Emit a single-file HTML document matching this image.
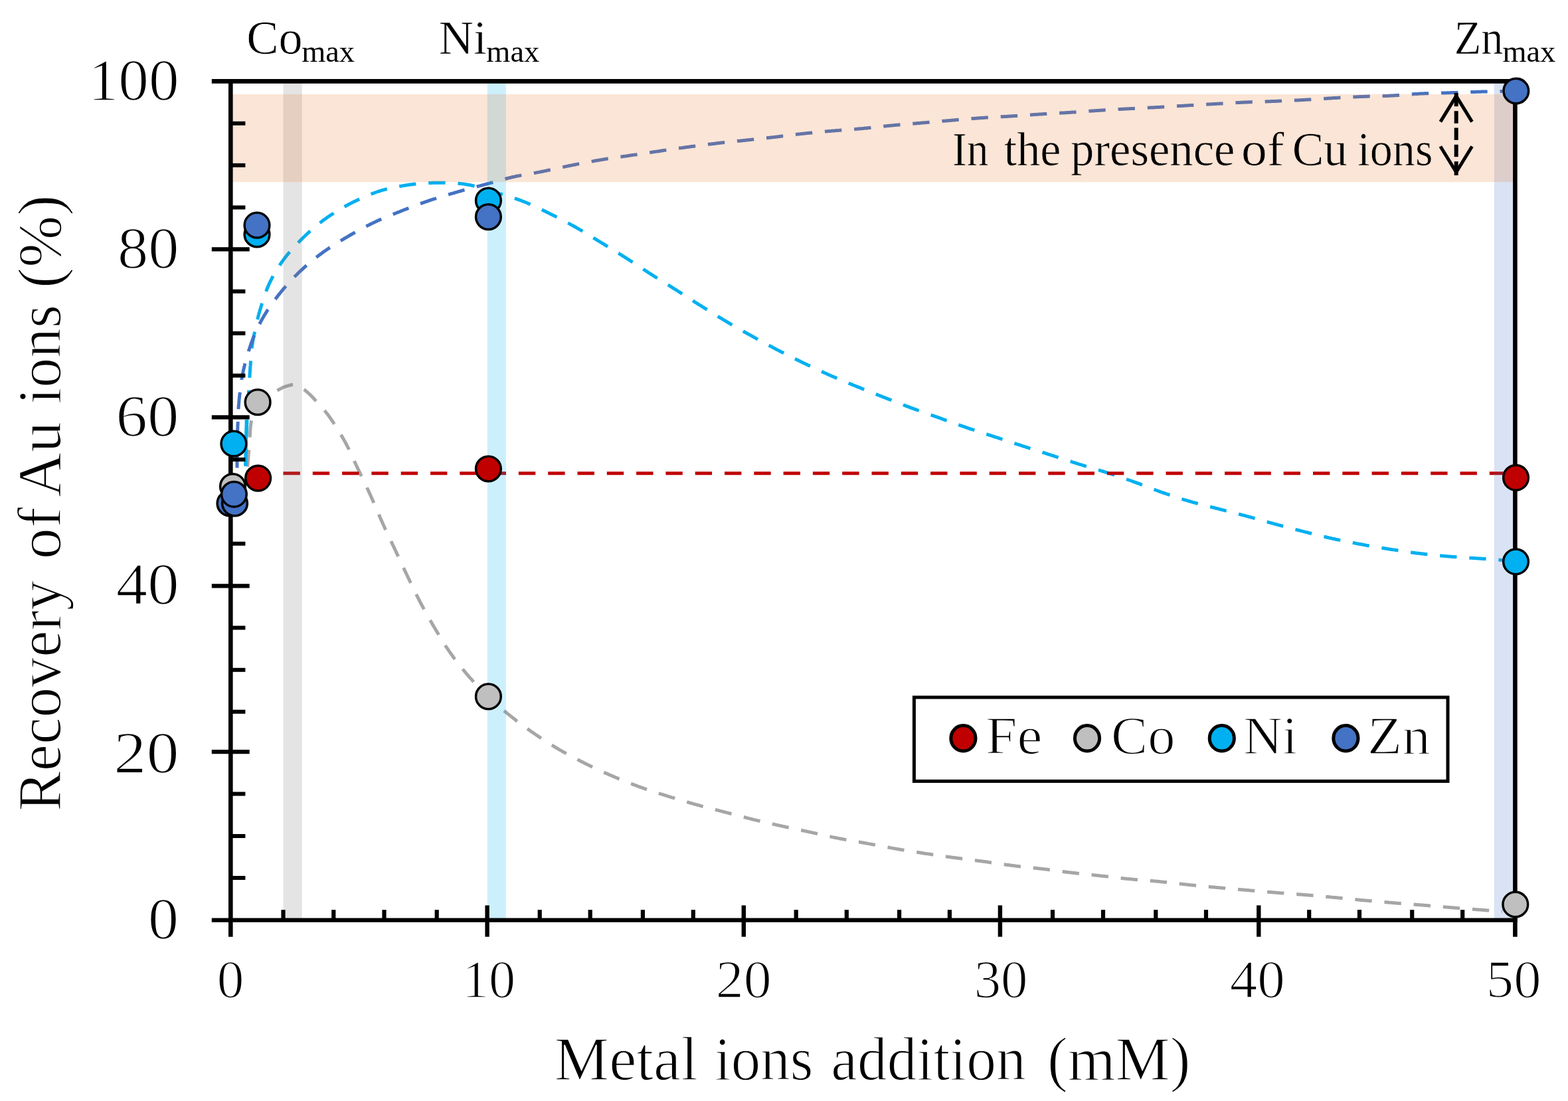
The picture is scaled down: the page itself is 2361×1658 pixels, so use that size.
<!DOCTYPE html>
<html><head><meta charset="utf-8"><title>Recovery of Au ions</title>
<style>html,body{margin:0;padding:0;background:#fff;} svg{display:block;}</style></head>
<body><svg width="2361" height="1658" viewBox="0 0 2361 1658">
<rect width="2361" height="1658" fill="#fff"/>
<path d="M372.0,712.0 L372.1,711.2 L372.1,710.2 L372.2,709.0 L372.3,707.8 L372.4,706.4 L372.6,705.0 L372.7,703.4 L372.8,701.8 L372.9,700.1 L373.1,698.4 L373.2,696.6 L373.3,694.8 L373.5,693.0 L373.6,691.3 L373.8,689.5 L373.9,687.8 L374.0,686.1 L374.2,684.4 L374.3,682.9 L374.4,681.4 L374.5,680.0 L374.6,678.3 L374.8,676.6 L374.9,674.9 L375.0,673.3 L375.1,671.7 L375.2,670.2 L375.4,668.6 L375.5,667.1 L375.6,665.7 L375.7,664.2 L375.8,662.8 L375.9,661.4 L376.0,660.0 L376.1,658.7 L376.2,657.3 L376.3,656.0 L376.4,654.3 L376.5,652.6 L376.6,651.1 L376.7,649.5 L376.8,648.0 L376.9,646.6 L377.0,645.1 L377.1,643.7 L377.2,642.3 L377.4,640.9 L377.6,639.4 L377.8,638.0 L378.1,636.4 L378.3,634.8 L378.6,633.2 L379.0,631.7 L379.3,630.1 L379.7,628.5 L380.1,627.0 L380.5,625.5 L381.0,624.0 L381.5,622.5 L382.0,621.0 L382.6,619.5 L383.2,618.1 L383.8,616.6 L384.5,615.2 L385.2,613.8 L385.9,612.4 L386.7,611.0 L387.5,609.7 L388.3,608.4 L389.1,607.2 L390.0,606.0 L391.0,604.7 L392.0,603.5 L393.0,602.4 L394.1,601.3 L395.2,600.2 L396.3,599.2 L397.4,598.2 L398.6,597.2 L399.8,596.3 L401.0,595.5 L402.4,594.7 L403.8,593.9 L405.2,593.3 L406.7,592.7 L408.2,592.1 L409.7,591.5 L411.2,590.9 L412.8,590.3 L414.4,589.6 L415.7,589.0 L417.1,588.3 L418.5,587.5 L419.9,586.7 L421.3,586.0 L422.7,585.2 L424.1,584.5 L425.6,583.8 L427.0,583.1 L428.5,582.5 L430.0,582.0 L431.5,581.5 L433.0,581.1 L434.6,580.6 L436.2,580.2 L437.7,579.8 L439.3,579.5 L440.9,579.2 L442.5,579.1 L444.0,579.1 L445.5,579.2 L447.0,579.5 L448.3,579.9 L449.6,580.5 L450.9,581.1 L452.2,581.9 L453.4,582.8 L454.7,583.7 L455.9,584.7 L457.1,585.8 L458.4,586.8 L459.6,587.9 L460.8,589.0 L462.0,590.0 L463.1,590.9 L464.1,591.9 L465.2,592.8 L466.2,593.7 L467.2,594.7 L468.2,595.6 L469.2,596.7 L470.2,597.7 L471.3,598.8 L472.4,600.0 L473.5,601.3 L474.7,602.6 L476.0,604.0 L476.8,604.9 L477.7,605.8 L478.5,606.8 L479.4,607.8 L480.3,608.7 L481.2,609.7 L482.2,610.8 L483.1,611.8 L484.1,612.9 L485.1,614.0 L486.0,615.1 L487.0,616.3 L488.0,617.5 L489.1,618.7 L490.1,619.9 L491.1,621.2 L492.1,622.5 L493.2,623.8 L494.2,625.2 L495.3,626.6 L496.3,628.1 L497.1,629.2 L497.8,630.3 L498.6,631.4 L499.4,632.6 L500.2,633.8 L501.1,635.0 L501.9,636.3 L502.7,637.6 L503.5,638.8 L504.4,640.1 L505.2,641.5 L506.1,642.8 L506.9,644.1 L507.8,645.5 L508.6,646.9 L509.5,648.2 L510.3,649.6 L511.2,651.0 L512.0,652.4 L512.8,653.8 L513.7,655.2 L514.5,656.6 L515.3,657.9 L516.1,659.3 L516.9,660.7 L517.7,662.1 L518.4,663.4 L519.2,664.8 L519.9,666.1 L520.6,667.5 L521.4,668.8 L522.1,670.2 L522.8,671.6 L523.5,673.0 L524.2,674.3 L524.9,675.7 L525.6,677.1 L526.2,678.5 L526.9,679.8 L527.5,681.2 L528.2,682.6 L528.8,684.0 L529.5,685.4 L530.1,686.7 L530.7,688.1 L531.4,689.5 L532.0,690.9 L532.6,692.3 L533.3,693.7 L533.9,695.1 L534.6,696.5 L535.2,697.9 L535.8,699.3 L536.5,700.7 L537.2,702.2 L537.8,703.6 L538.5,705.0 L539.1,706.3 L539.8,707.7 L540.4,709.0 L541.1,710.4 L541.7,711.7 L542.4,713.1 L543.0,714.4 L543.7,715.8 L544.3,717.1 L545.0,718.5 L545.6,719.9 L546.3,721.3 L546.9,722.6 L547.6,724.0 L548.2,725.4 L548.9,726.8 L549.6,728.1 L550.2,729.5 L550.9,730.9 L551.5,732.3 L552.2,733.6 L552.8,735.0 L553.5,736.4 L554.1,737.8 L554.8,739.1 L555.4,740.5 L556.0,741.9 L556.7,743.3 L557.3,744.6 L557.9,746.0 L558.5,747.4 L559.2,748.8 L559.8,750.2 L560.4,751.7 L561.1,753.1 L561.7,754.5 L562.3,755.9 L562.9,757.3 L563.5,758.7 L564.1,760.2 L564.7,761.6 L565.3,763.0 L565.9,764.4 L566.5,765.8 L567.2,767.2 L567.8,768.7 L568.4,770.1 L569.0,771.5 L569.6,772.9 L570.2,774.3 L570.8,775.7 L571.4,777.1 L572.0,778.5 L572.6,779.9 L573.2,781.3 L573.8,782.7 L574.5,784.1 L575.1,785.5 L575.7,786.9 L576.3,788.3 L577.0,789.7 L577.6,791.1 L578.2,792.4 L578.9,793.8 L579.5,795.2 L580.1,796.6 L580.8,797.9 L581.4,799.3 L582.1,800.7 L582.7,802.0 L583.3,803.4 L584.0,804.8 L584.6,806.1 L585.3,807.5 L585.9,808.9 L586.6,810.2 L587.2,811.6 L587.9,813.0 L588.5,814.3 L589.1,815.7 L589.8,817.0 L590.4,818.4 L591.1,819.8 L591.7,821.1 L592.4,822.5 L593.0,823.9 L593.7,825.2 L594.3,826.6 L594.9,828.0 L595.6,829.3 L596.2,830.7 L596.9,832.1 L597.5,833.4 L598.1,834.8 L598.8,836.2 L599.4,837.5 L600.0,838.9 L600.7,840.3 L601.3,841.6 L601.9,843.0 L602.6,844.4 L603.2,845.7 L603.8,847.1 L604.5,848.5 L605.1,849.8 L605.8,851.2 L606.4,852.6 L607.0,853.9 L607.7,855.3 L608.3,856.7 L609.0,858.1 L609.6,859.4 L610.3,860.8 L610.9,862.2 L611.6,863.5 L612.2,864.9 L612.9,866.3 L613.6,867.7 L614.2,869.1 L614.9,870.4 L615.5,871.8 L616.2,873.2 L616.9,874.6 L617.5,876.0 L618.2,877.4 L618.9,878.8 L619.5,880.2 L620.2,881.6 L620.9,883.0 L621.6,884.4 L622.2,885.8 L622.9,887.2 L623.6,888.6 L624.3,890.0 L624.9,891.4 L625.6,892.7 L626.3,894.1 L627.0,895.5 L627.7,896.9 L628.4,898.3 L629.1,899.7 L629.8,901.0 L630.5,902.4 L631.2,903.8 L631.9,905.1 L632.6,906.5 L633.3,907.9 L634.0,909.2 L634.7,910.6 L635.5,911.9 L636.2,913.3 L636.9,914.6 L637.6,915.9 L638.4,917.3 L639.1,918.6 L639.8,920.0 L640.5,921.3 L641.3,922.6 L642.0,923.9 L642.8,925.3 L643.5,926.6 L644.2,927.9 L645.0,929.2 L645.7,930.6 L646.5,931.9 L647.2,933.2 L648.0,934.5 L648.7,935.8 L649.5,937.1 L650.3,938.5 L651.0,939.8 L651.8,941.1 L652.6,942.4 L653.3,943.7 L654.1,945.0 L654.9,946.3 L655.6,947.6 L656.4,948.9 L657.2,950.2 L658.0,951.5 L658.7,952.8 L659.5,954.1 L660.3,955.4 L661.0,956.7 L661.8,958.0 L662.6,959.3 L663.4,960.6 L664.2,961.8 L665.0,963.1 L665.7,964.4 L666.5,965.7 L667.3,967.0 L668.1,968.3 L669.0,969.5 L669.8,970.8 L670.6,972.1 L671.4,973.4 L672.2,974.6 L673.1,975.9 L673.9,977.2 L674.8,978.4 L675.7,979.7 L676.5,980.9 L677.4,982.2 L678.3,983.4 L679.1,984.6 L680.0,985.8 L680.9,987.1 L681.8,988.3 L682.6,989.5 L683.5,990.7 L684.4,991.9 L685.3,993.1 L686.3,994.3 L687.2,995.6 L688.1,996.8 L689.0,998.0 L690.0,999.2 L690.9,1000.4 L691.8,1001.6 L692.8,1002.8 L693.7,1004.0 L694.7,1005.1 L695.6,1006.3 L696.6,1007.5 L697.5,1008.7 L698.5,1009.8 L699.5,1011.0 L700.4,1012.2 L701.4,1013.3 L702.4,1014.5 L703.3,1015.6 L704.3,1016.8 L705.3,1017.9 L706.3,1019.1 L707.3,1020.2 L708.3,1021.4 L709.4,1022.5 L710.4,1023.7 L711.4,1024.8 L712.5,1026.0 L713.5,1027.1 L714.5,1028.3 L715.6,1029.4 L716.6,1030.5 L717.7,1031.6 L718.7,1032.7 L719.8,1033.9 L720.9,1035.0 L721.9,1036.1 L723.0,1037.2 L724.1,1038.3 L725.1,1039.3 L726.2,1040.4 L727.3,1041.5 L728.4,1042.6 L729.5,1043.7 L730.5,1044.7 L731.6,1045.8 L732.7,1046.9 L733.8,1047.9 L734.9,1049.0 L736.0,1050.0 L737.1,1051.1 L738.3,1052.1 L739.4,1053.2 L740.6,1054.3 L741.7,1055.3 L742.9,1056.4 L744.0,1057.4 L745.2,1058.4 L746.3,1059.5 L747.5,1060.5 L748.6,1061.5 L749.8,1062.5 L751.0,1063.5 L752.1,1064.6 L753.3,1065.6 L754.5,1066.6 L755.7,1067.6 L756.9,1068.6 L758.0,1069.5 L759.2,1070.5 L760.4,1071.5 L761.6,1072.5 L762.8,1073.5 L764.0,1074.5 L765.2,1075.5 L766.5,1076.4 L767.7,1077.4 L768.9,1078.4 L770.1,1079.3 L771.3,1080.3 L772.5,1081.2 L773.7,1082.2 L774.9,1083.1 L776.1,1084.0 L777.3,1085.0 L778.5,1085.9 L779.7,1086.8 L780.9,1087.8 L782.2,1088.7 L783.4,1089.6 L784.6,1090.5 L785.9,1091.4 L787.1,1092.3 L788.3,1093.3 L789.6,1094.2 L790.8,1095.1 L792.1,1096.0 L793.3,1096.9 L794.6,1097.8 L795.8,1098.7 L797.1,1099.5 L798.3,1100.4 L799.6,1101.3 L800.8,1102.2 L802.1,1103.1 L803.3,1103.9 L804.6,1104.8 L805.9,1105.7 L807.1,1106.5 L808.4,1107.4 L809.6,1108.2 L810.9,1109.1 L812.2,1109.9 L813.4,1110.8 L814.7,1111.6 L816.0,1112.5 L817.2,1113.3 L818.5,1114.1 L819.8,1115.0 L821.1,1115.8 L822.3,1116.6 L823.6,1117.4 L824.9,1118.3 L826.2,1119.1 L827.5,1119.9 L828.8,1120.7 L830.0,1121.5 L831.3,1122.3 L832.6,1123.1 L833.9,1123.9 L835.2,1124.7 L836.5,1125.5 L837.9,1126.3 L839.2,1127.0 L840.5,1127.8 L841.8,1128.6 L843.1,1129.4 L844.4,1130.1 L845.8,1130.9 L847.1,1131.7 L848.5,1132.4 L849.8,1133.2 L851.1,1133.9 L852.5,1134.7 L853.8,1135.4 L855.2,1136.2 L856.5,1136.9 L857.9,1137.6 L859.3,1138.4 L860.6,1139.1 L862.0,1139.8 L863.4,1140.6 L864.7,1141.3 L866.1,1142.0 L867.5,1142.7 L868.8,1143.4 L870.2,1144.1 L871.6,1144.8 L873.0,1145.5 L874.3,1146.2 L875.7,1146.9 L877.1,1147.6 L878.5,1148.3 L879.8,1149.0 L881.2,1149.7 L882.6,1150.4 L884.0,1151.1 L885.3,1151.7 L886.7,1152.4 L888.1,1153.1 L889.5,1153.8 L890.8,1154.4 L892.2,1155.1 L893.6,1155.8 L895.0,1156.4 L896.4,1157.1 L897.8,1157.7 L899.1,1158.4 L900.5,1159.0 L901.9,1159.7 L903.3,1160.3 L904.7,1160.9 L906.1,1161.6 L907.5,1162.2 L908.9,1162.8 L910.3,1163.5 L911.7,1164.1 L913.1,1164.7 L914.5,1165.3 L915.9,1166.0 L917.3,1166.6 L918.7,1167.2 L920.1,1167.8 L921.5,1168.4 L922.9,1169.0 L924.3,1169.6 L925.7,1170.2 L927.1,1170.8 L928.6,1171.4 L930.0,1172.0 L931.4,1172.6 L932.8,1173.2 L934.2,1173.7 L935.7,1174.3 L937.1,1174.9 L938.5,1175.5 L939.9,1176.1 L941.4,1176.6 L942.8,1177.2 L944.2,1177.8 L945.7,1178.3 L947.1,1178.9 L948.5,1179.4 L949.9,1180.0 L951.4,1180.5 L952.8,1181.1 L954.2,1181.6 L955.7,1182.2 L957.1,1182.7 L958.5,1183.2 L959.9,1183.8 L961.4,1184.3 L962.8,1184.8 L964.2,1185.3 L965.6,1185.8 L967.1,1186.3 L968.5,1186.8 L969.9,1187.3 L971.3,1187.8 L972.7,1188.3 L974.2,1188.8 L975.6,1189.3 L977.0,1189.8 L978.4,1190.2 L979.8,1190.7 L981.2,1191.2 L982.7,1191.6 L984.1,1192.1 L985.5,1192.6 L986.9,1193.0 L988.3,1193.5 L989.8,1194.0 L991.2,1194.4 L992.6,1194.9 L994.0,1195.3 L995.5,1195.8 L996.9,1196.2 L998.3,1196.7 L999.8,1197.1 L1001.2,1197.6 L1002.7,1198.0 L1004.1,1198.5 L1005.5,1199.0 L1007.0,1199.4 L1008.4,1199.9 L1009.9,1200.3 L1011.3,1200.8 L1012.8,1201.2 L1014.3,1201.7 L1015.7,1202.1 L1017.2,1202.6 L1018.6,1203.0 L1020.1,1203.4 L1021.6,1203.9 L1023.0,1204.3 L1024.5,1204.8 L1026.0,1205.2 L1027.4,1205.7 L1028.9,1206.1 L1030.4,1206.5 L1031.8,1207.0 L1033.3,1207.4 L1034.8,1207.8 L1036.3,1208.2 L1037.7,1208.7 L1039.2,1209.1 L1040.7,1209.5 L1042.2,1209.9 L1043.6,1210.4 L1045.1,1210.8 L1046.6,1211.2 L1048.1,1211.6 L1049.6,1212.0 L1051.1,1212.4 L1052.6,1212.8 L1054.0,1213.2 L1055.5,1213.7 L1057.0,1214.1 L1058.5,1214.5 L1060.1,1214.9 L1061.6,1215.2 L1063.1,1215.6 L1064.6,1216.0 L1066.1,1216.4 L1067.6,1216.8 L1069.1,1217.2 L1070.6,1217.6 L1072.1,1218.0 L1073.6,1218.4 L1075.1,1218.8 L1076.6,1219.1 L1078.1,1219.5 L1079.6,1219.9 L1081.1,1220.3 L1082.6,1220.7 L1084.1,1221.1 L1085.6,1221.4 L1087.0,1221.8 L1088.5,1222.2 L1090.0,1222.6 L1091.5,1223.0 L1093.0,1223.4 L1094.5,1223.8 L1096.0,1224.2 L1097.5,1224.6 L1099.0,1225.0 L1100.5,1225.4 L1102.0,1225.8 L1103.5,1226.2 L1105.0,1226.6 L1106.5,1227.0 L1107.9,1227.3 L1109.4,1227.7 L1110.9,1228.1 L1112.4,1228.5 L1113.9,1228.9 L1115.4,1229.3 L1116.8,1229.7 L1118.3,1230.1 L1119.8,1230.5 L1121.3,1230.8 L1122.8,1231.2 L1124.3,1231.6 L1125.8,1232.0 L1127.3,1232.4 L1128.8,1232.7 L1130.4,1233.1 L1131.9,1233.5 L1133.3,1233.9 L1134.8,1234.2 L1136.2,1234.6 L1137.7,1234.9 L1139.2,1235.3 L1140.6,1235.6 L1142.1,1236.0 L1143.6,1236.3 L1145.1,1236.7 L1146.5,1237.0 L1148.0,1237.3 L1149.5,1237.7 L1151.0,1238.0 L1152.5,1238.4 L1154.0,1238.7 L1155.5,1239.1 L1157.0,1239.4 L1158.4,1239.7 L1159.9,1240.1 L1161.4,1240.4 L1162.9,1240.8 L1164.4,1241.1 L1165.8,1241.4 L1167.3,1241.8 L1168.8,1242.1 L1170.2,1242.4 L1171.7,1242.7 L1173.1,1243.1 L1174.6,1243.4 L1176.0,1243.7 L1177.5,1244.0 L1179.0,1244.4 L1180.5,1244.7 L1182.0,1245.0 L1183.5,1245.4 L1185.0,1245.7 L1186.5,1246.0 L1188.0,1246.3 L1189.4,1246.6 L1190.9,1246.9 L1192.3,1247.2 L1193.8,1247.6 L1195.3,1247.9 L1196.7,1248.2 L1198.2,1248.5 L1199.6,1248.8 L1201.1,1249.1 L1202.5,1249.4 L1204.0,1249.7 L1205.5,1250.0 L1207.0,1250.3 L1208.4,1250.7 L1209.9,1251.0 L1211.4,1251.3 L1212.9,1251.6 L1214.4,1251.9 L1216.0,1252.3 L1217.5,1252.6 L1218.9,1252.9 L1220.4,1253.2 L1221.9,1253.6 L1223.3,1253.9 L1224.8,1254.2 L1226.3,1254.5 L1227.8,1254.9 L1229.3,1255.2 L1230.8,1255.5 L1232.3,1255.9 L1233.8,1256.2 L1235.3,1256.6 L1236.8,1256.9 L1238.3,1257.2 L1239.8,1257.6 L1241.3,1257.9 L1242.8,1258.3 L1244.3,1258.6 L1245.9,1258.9 L1247.4,1259.3 L1248.9,1259.6 L1250.4,1259.9 L1251.9,1260.2 L1253.4,1260.6 L1254.9,1260.9 L1256.4,1261.2 L1257.9,1261.5 L1259.4,1261.8 L1260.8,1262.1 L1262.3,1262.4 L1263.8,1262.7 L1265.3,1263.0 L1266.8,1263.3 L1268.3,1263.6 L1269.8,1263.8 L1271.3,1264.1 L1272.8,1264.4 L1274.3,1264.7 L1275.8,1264.9 L1277.2,1265.2 L1278.7,1265.5 L1280.2,1265.7 L1281.7,1266.0 L1283.2,1266.2 L1284.6,1266.5 L1286.1,1266.7 L1287.6,1267.0 L1289.1,1267.2 L1290.5,1267.5 L1292.0,1267.8 L1293.5,1268.0 L1295.0,1268.3 L1296.4,1268.5 L1297.9,1268.8 L1299.4,1269.0 L1300.9,1269.3 L1302.4,1269.6 L1303.9,1269.8 L1305.4,1270.1 L1306.9,1270.4 L1308.4,1270.6 L1309.9,1270.9 L1311.4,1271.2 L1312.9,1271.5 L1314.5,1271.8 L1316.0,1272.0 L1317.5,1272.3 L1319.0,1272.6 L1320.5,1272.9 L1322.0,1273.2 L1323.6,1273.5 L1325.1,1273.8 L1326.6,1274.0 L1328.1,1274.3 L1329.6,1274.6 L1331.2,1274.9 L1332.7,1275.2 L1334.2,1275.5 L1335.8,1275.7 L1337.3,1276.0 L1338.8,1276.3 L1340.3,1276.6 L1341.9,1276.9 L1343.4,1277.1 L1344.9,1277.4 L1346.4,1277.7 L1348.0,1277.9 L1349.5,1278.2 L1351.0,1278.5 L1352.5,1278.7 L1353.9,1279.0 L1355.4,1279.2 L1356.9,1279.5 L1358.4,1279.7 L1359.9,1280.0 L1361.4,1280.2 L1362.9,1280.5 L1364.4,1280.7 L1365.8,1280.9 L1367.3,1281.2 L1368.8,1281.4 L1370.3,1281.7 L1371.8,1281.9 L1373.3,1282.2 L1374.8,1282.4 L1376.3,1282.6 L1377.8,1282.9 L1379.3,1283.1 L1380.7,1283.3 L1382.2,1283.6 L1383.7,1283.8 L1385.2,1284.0 L1386.7,1284.3 L1388.1,1284.5 L1389.6,1284.7 L1391.1,1285.0 L1392.5,1285.2 L1394.0,1285.4 L1395.5,1285.6 L1397.0,1285.9 L1398.5,1286.1 L1400.0,1286.3 L1401.5,1286.5 L1403.0,1286.8 L1404.5,1287.0 L1405.9,1287.2 L1407.4,1287.4 L1408.9,1287.6 L1410.4,1287.8 L1411.9,1288.1 L1413.3,1288.3 L1414.8,1288.5 L1416.3,1288.7 L1417.8,1288.9 L1419.2,1289.1 L1420.7,1289.3 L1422.2,1289.5 L1423.7,1289.7 L1425.1,1289.9 L1426.6,1290.2 L1428.1,1290.4 L1429.6,1290.6 L1431.1,1290.8 L1432.6,1291.0 L1434.1,1291.2 L1435.6,1291.4 L1437.1,1291.6 L1438.6,1291.8 L1440.1,1292.0 L1441.7,1292.2 L1443.2,1292.4 L1444.7,1292.6 L1446.2,1292.8 L1447.8,1293.0 L1449.3,1293.2 L1450.8,1293.4 L1452.4,1293.6 L1453.9,1293.8 L1455.5,1294.0 L1457.0,1294.2 L1458.6,1294.4 L1460.1,1294.6 L1461.7,1294.8 L1463.2,1295.0 L1464.8,1295.2 L1466.3,1295.4 L1467.8,1295.6 L1469.4,1295.8 L1470.9,1296.0 L1472.5,1296.2 L1474.0,1296.4 L1475.6,1296.6 L1477.1,1296.8 L1478.6,1297.0 L1480.2,1297.2 L1481.7,1297.4 L1483.2,1297.6 L1484.8,1297.8 L1486.3,1298.0 L1487.8,1298.2 L1489.3,1298.5 L1490.9,1298.7 L1492.4,1298.9 L1493.9,1299.1 L1495.5,1299.3 L1497.0,1299.6 L1498.5,1299.8 L1500.0,1300.0 L1501.6,1300.2 L1503.1,1300.5 L1504.6,1300.7 L1506.1,1300.9 L1507.6,1301.1 L1509.2,1301.3 L1510.7,1301.6 L1512.2,1301.8 L1513.7,1302.0 L1515.2,1302.2 L1516.7,1302.4 L1518.3,1302.6 L1519.8,1302.8 L1521.3,1303.0 L1522.8,1303.2 L1524.3,1303.4 L1525.8,1303.6 L1527.4,1303.8 L1528.9,1304.0 L1530.5,1304.2 L1532.0,1304.4 L1533.5,1304.5 L1535.1,1304.7 L1536.6,1304.9 L1538.2,1305.0 L1539.7,1305.2 L1541.2,1305.4 L1542.8,1305.5 L1544.3,1305.7 L1545.8,1305.9 L1547.3,1306.0 L1548.9,1306.2 L1550.4,1306.4 L1551.9,1306.5 L1553.5,1306.7 L1555.0,1306.8 L1556.5,1307.0 L1558.1,1307.2 L1559.6,1307.3 L1561.2,1307.5 L1562.7,1307.7 L1564.2,1307.9 L1565.8,1308.0 L1567.3,1308.2 L1568.9,1308.4 L1570.4,1308.6 L1571.9,1308.8 L1573.4,1309.0 L1574.9,1309.1 L1576.4,1309.3 L1578.0,1309.5 L1579.5,1309.7 L1581.0,1309.9 L1582.5,1310.1 L1584.0,1310.3 L1585.5,1310.5 L1587.1,1310.7 L1588.6,1310.9 L1590.1,1311.1 L1591.6,1311.4 L1593.1,1311.6 L1594.7,1311.8 L1596.2,1312.0 L1597.7,1312.2 L1599.3,1312.4 L1600.8,1312.6 L1602.3,1312.8 L1603.8,1313.0 L1605.4,1313.2 L1606.9,1313.4 L1608.4,1313.5 L1609.9,1313.7 L1611.5,1313.9 L1613.0,1314.1 L1614.5,1314.3 L1616.1,1314.5 L1617.6,1314.6 L1619.1,1314.8 L1620.7,1315.0 L1622.2,1315.2 L1623.7,1315.3 L1625.3,1315.5 L1626.8,1315.7 L1628.4,1315.8 L1629.9,1316.0 L1631.5,1316.2 L1633.0,1316.3 L1634.5,1316.5 L1636.1,1316.6 L1637.6,1316.8 L1639.2,1317.0 L1640.7,1317.1 L1642.2,1317.3 L1643.8,1317.4 L1645.3,1317.6 L1646.8,1317.8 L1648.4,1317.9 L1649.9,1318.1 L1651.4,1318.2 L1653.0,1318.4 L1654.5,1318.6 L1656.0,1318.7 L1657.5,1318.9 L1659.1,1319.1 L1660.6,1319.2 L1662.2,1319.4 L1663.7,1319.6 L1665.2,1319.8 L1666.8,1319.9 L1668.3,1320.1 L1669.8,1320.3 L1671.4,1320.5 L1672.9,1320.7 L1674.4,1320.8 L1675.9,1321.0 L1677.5,1321.2 L1679.0,1321.4 L1680.5,1321.5 L1682.0,1321.7 L1683.6,1321.9 L1685.1,1322.1 L1686.6,1322.2 L1688.1,1322.4 L1689.7,1322.6 L1691.2,1322.7 L1692.8,1322.9 L1694.3,1323.1 L1695.9,1323.2 L1697.4,1323.4 L1699.0,1323.5 L1700.6,1323.7 L1702.1,1323.8 L1703.6,1324.0 L1705.1,1324.1 L1706.6,1324.3 L1708.1,1324.4 L1709.6,1324.5 L1711.1,1324.7 L1712.6,1324.8 L1714.1,1324.9 L1715.7,1325.0 L1717.2,1325.2 L1718.7,1325.3 L1720.3,1325.4 L1721.8,1325.5 L1723.3,1325.6 L1724.9,1325.8 L1726.4,1325.9 L1728.0,1326.0 L1729.5,1326.1 L1731.0,1326.3 L1732.6,1326.4 L1734.1,1326.5 L1735.6,1326.6 L1737.1,1326.8 L1738.7,1326.9 L1740.2,1327.0 L1741.7,1327.2 L1743.2,1327.3 L1744.7,1327.5 L1746.2,1327.6 L1747.7,1327.8 L1749.3,1327.9 L1750.8,1328.1 L1752.3,1328.2 L1753.9,1328.4 L1755.4,1328.5 L1756.9,1328.7 L1758.4,1328.9 L1760.0,1329.0 L1761.5,1329.2 L1763.0,1329.4 L1764.5,1329.5 L1766.0,1329.7 L1767.5,1329.9 L1769.0,1330.1 L1770.5,1330.2 L1772.0,1330.4 L1773.5,1330.6 L1775.0,1330.7 L1776.6,1330.9 L1778.1,1331.1 L1779.6,1331.3 L1781.1,1331.4 L1782.6,1331.6 L1784.1,1331.8 L1785.6,1331.9 L1787.2,1332.1 L1788.7,1332.2 L1790.2,1332.4 L1791.7,1332.6 L1793.3,1332.7 L1794.8,1332.9 L1796.3,1333.0 L1797.9,1333.2 L1799.4,1333.3 L1801.0,1333.5 L1802.5,1333.6 L1804.0,1333.8 L1805.6,1333.9 L1807.1,1334.1 L1808.7,1334.2 L1810.2,1334.4 L1811.8,1334.5 L1813.3,1334.7 L1814.9,1334.8 L1816.4,1335.0 L1818.0,1335.1 L1819.5,1335.3 L1821.0,1335.4 L1822.6,1335.6 L1824.1,1335.7 L1825.7,1335.9 L1827.2,1336.0 L1828.7,1336.1 L1830.2,1336.3 L1831.8,1336.4 L1833.3,1336.6 L1834.8,1336.7 L1836.4,1336.8 L1837.9,1337.0 L1839.5,1337.1 L1841.0,1337.3 L1842.6,1337.4 L1844.1,1337.5 L1845.6,1337.7 L1847.2,1337.8 L1848.7,1338.0 L1850.2,1338.1 L1851.8,1338.2 L1853.3,1338.4 L1854.8,1338.5 L1856.3,1338.6 L1857.9,1338.8 L1859.4,1338.9 L1860.9,1339.0 L1862.5,1339.2 L1864.0,1339.3 L1865.5,1339.4 L1867.1,1339.6 L1868.6,1339.7 L1870.1,1339.8 L1871.7,1340.0 L1873.2,1340.1 L1874.8,1340.2 L1876.3,1340.4 L1877.9,1340.5 L1879.4,1340.6 L1880.9,1340.8 L1882.5,1340.9 L1884.0,1341.0 L1885.5,1341.2 L1887.0,1341.3 L1888.6,1341.4 L1890.1,1341.6 L1891.7,1341.7 L1893.2,1341.8 L1894.7,1342.0 L1896.3,1342.1 L1897.8,1342.2 L1899.4,1342.4 L1900.9,1342.5 L1902.5,1342.6 L1904.0,1342.8 L1905.6,1342.9 L1907.1,1343.0 L1908.7,1343.2 L1910.2,1343.3 L1911.7,1343.4 L1913.3,1343.5 L1914.8,1343.7 L1916.4,1343.8 L1917.9,1343.9 L1919.4,1344.0 L1921.0,1344.2 L1922.5,1344.3 L1924.0,1344.4 L1925.6,1344.5 L1927.1,1344.7 L1928.6,1344.8 L1930.1,1344.9 L1931.7,1345.0 L1933.2,1345.1 L1934.7,1345.3 L1936.2,1345.4 L1937.7,1345.5 L1939.3,1345.6 L1940.8,1345.7 L1942.3,1345.8 L1943.8,1345.9 L1945.3,1346.1 L1946.9,1346.2 L1948.4,1346.3 L1949.9,1346.4 L1951.4,1346.5 L1952.9,1346.6 L1954.4,1346.7 L1955.9,1346.9 L1957.5,1347.0 L1959.0,1347.1 L1960.5,1347.2 L1962.0,1347.3 L1963.5,1347.5 L1965.0,1347.6 L1966.5,1347.7 L1968.1,1347.8 L1969.6,1348.0 L1971.2,1348.1 L1972.7,1348.2 L1974.3,1348.3 L1975.8,1348.5 L1977.3,1348.6 L1978.9,1348.7 L1980.4,1348.9 L1982.0,1349.0 L1983.5,1349.1 L1985.0,1349.3 L1986.6,1349.4 L1988.1,1349.5 L1989.6,1349.7 L1991.2,1349.8 L1992.7,1350.0 L1994.2,1350.1 L1995.8,1350.2 L1997.3,1350.4 L1998.9,1350.5 L2000.4,1350.6 L2001.9,1350.8 L2003.5,1350.9 L2005.0,1351.1 L2006.6,1351.2 L2008.1,1351.4 L2009.7,1351.5 L2011.2,1351.6 L2012.7,1351.8 L2014.2,1351.9 L2015.7,1352.1 L2017.2,1352.2 L2018.7,1352.4 L2020.2,1352.5 L2021.7,1352.7 L2023.3,1352.8 L2024.8,1353.0 L2026.3,1353.1 L2027.8,1353.3 L2029.3,1353.4 L2030.8,1353.6 L2032.3,1353.7 L2033.9,1353.9 L2035.4,1354.0 L2036.9,1354.2 L2038.4,1354.3 L2039.9,1354.5 L2041.5,1354.6 L2043.0,1354.8 L2044.5,1354.9 L2046.0,1355.1 L2047.6,1355.2 L2049.1,1355.4 L2050.6,1355.5 L2052.2,1355.7 L2053.7,1355.8 L2055.2,1355.9 L2056.7,1356.1 L2058.2,1356.2 L2059.7,1356.3 L2061.2,1356.5 L2062.7,1356.6 L2064.2,1356.7 L2065.7,1356.9 L2067.2,1357.0 L2068.7,1357.2 L2070.3,1357.3 L2071.8,1357.4 L2073.3,1357.5 L2074.8,1357.7 L2076.3,1357.8 L2077.9,1357.9 L2079.4,1358.1 L2080.9,1358.2 L2082.4,1358.3 L2083.9,1358.5 L2085.4,1358.6 L2086.9,1358.7 L2088.4,1358.8 L2089.9,1359.0 L2091.4,1359.1 L2092.9,1359.2 L2094.4,1359.3 L2095.9,1359.5 L2097.3,1359.6 L2098.8,1359.7 L2100.4,1359.8 L2101.9,1360.0 L2103.5,1360.1 L2105.0,1360.2 L2106.5,1360.3 L2108.0,1360.4 L2109.6,1360.6 L2111.1,1360.7 L2112.6,1360.8 L2114.1,1360.9 L2115.6,1361.0 L2117.1,1361.1 L2118.6,1361.2 L2120.1,1361.4 L2121.6,1361.5 L2123.1,1361.6 L2124.6,1361.7 L2126.1,1361.8 L2127.6,1361.9 L2129.1,1362.0 L2130.6,1362.2 L2132.1,1362.3 L2133.7,1362.4 L2135.2,1362.5 L2136.7,1362.6 L2138.3,1362.8 L2139.8,1362.9 L2141.4,1363.0 L2142.9,1363.1 L2144.4,1363.2 L2145.8,1363.4 L2147.3,1363.5 L2148.8,1363.6 L2150.4,1363.7 L2151.9,1363.9 L2153.4,1364.0 L2154.9,1364.1 L2156.4,1364.2 L2158.0,1364.4 L2159.5,1364.5 L2161.0,1364.6 L2162.6,1364.8 L2164.1,1364.9 L2165.7,1365.0 L2167.2,1365.2 L2168.7,1365.3 L2170.3,1365.4 L2171.8,1365.5 L2173.3,1365.7 L2174.9,1365.8 L2176.4,1365.9 L2177.9,1366.1 L2179.4,1366.2 L2180.9,1366.3 L2182.4,1366.4 L2183.9,1366.6 L2185.4,1366.7 L2186.9,1366.8 L2188.5,1366.9 L2190.1,1367.1 L2191.7,1367.2 L2193.3,1367.3 L2194.9,1367.4 L2196.5,1367.6 L2198.1,1367.7 L2199.7,1367.8 L2201.3,1368.0 L2202.9,1368.1 L2204.5,1368.2 L2206.1,1368.3 L2207.7,1368.5 L2209.3,1368.6 L2210.9,1368.7 L2212.4,1368.8 L2214.0,1369.0 L2215.5,1369.1 L2217.1,1369.2 L2218.6,1369.3 L2220.1,1369.4 L2221.5,1369.6 L2223.0,1369.7 L2224.4,1369.8 L2225.9,1369.9 L2227.3,1370.0 L2228.6,1370.1 L2230.0,1370.2 L2231.8,1370.3 L2233.6,1370.5 L2235.4,1370.6 L2237.3,1370.7 L2239.1,1370.9 L2240.9,1371.0 L2242.7,1371.1 L2244.4,1371.3 L2246.2,1371.4 L2247.9,1371.5 L2249.5,1371.6 L2251.1,1371.7 L2252.6,1371.8 L2254.1,1371.9 L2255.5,1372.0 L2256.8,1372.1 L2258.1,1372.2 L2259.2,1372.3 L2260.2,1372.4 L2261.2,1372.4 L2262.0,1372.5" fill="none" stroke="#A6A6A6" stroke-width="5.0" stroke-dasharray="25.4 18.9" stroke-dashoffset="35.01" />
<path d="M369.8,703.0 L369.8,702.2 L369.8,701.2 L369.9,700.2 L369.9,699.0 L369.9,697.8 L369.9,696.4 L369.9,695.0 L370.0,693.5 L370.0,691.9 L370.0,690.3 L370.1,688.6 L370.1,686.9 L370.1,685.2 L370.2,683.4 L370.2,681.7 L370.2,679.9 L370.3,678.1 L370.3,676.3 L370.3,674.6 L370.4,672.9 L370.4,671.2 L370.5,669.6 L370.5,668.0 L370.6,666.5 L370.6,665.0 L370.7,663.4 L370.7,661.8 L370.8,660.3 L370.8,658.7 L370.9,657.2 L370.9,655.7 L371.0,654.3 L371.0,652.8 L371.1,651.3 L371.2,649.9 L371.2,648.4 L371.3,647.0 L371.3,645.5 L371.4,644.1 L371.5,642.6 L371.5,641.2 L371.6,639.7 L371.7,638.2 L371.8,636.7 L371.8,635.1 L371.9,633.6 L372.0,632.0 L372.1,630.5 L372.2,629.1 L372.2,627.6 L372.3,626.1 L372.4,624.6 L372.5,623.0 L372.6,621.5 L372.7,620.0 L372.8,618.4 L372.9,616.9 L372.9,615.3 L373.0,613.8 L373.1,612.2 L373.2,610.6 L373.3,609.1 L373.4,607.5 L373.5,605.9 L373.6,604.3 L373.7,602.8 L373.8,601.2 L373.9,599.7 L374.0,598.1 L374.1,596.5 L374.2,595.0 L374.3,593.5 L374.4,591.9 L374.5,590.4 L374.6,588.8 L374.7,587.3 L374.8,585.7 L374.8,584.2 L374.9,582.6 L375.0,581.1 L375.1,579.5 L375.2,578.0 L375.3,576.4 L375.4,574.9 L375.5,573.3 L375.6,571.8 L375.7,570.3 L375.8,568.7 L375.9,567.2 L376.0,565.6 L376.1,564.1 L376.2,562.6 L376.3,561.0 L376.4,559.5 L376.5,558.0 L376.6,556.5 L376.7,554.9 L376.8,553.4 L376.9,551.8 L377.1,550.2 L377.2,548.6 L377.3,547.1 L377.4,545.5 L377.5,543.9 L377.6,542.3 L377.7,540.8 L377.9,539.2 L378.0,537.6 L378.1,536.1 L378.2,534.6 L378.4,533.1 L378.5,531.6 L378.6,530.1 L378.8,528.7 L378.9,527.3 L379.0,525.9 L379.2,524.6 L379.3,523.3 L379.5,522.0 L379.7,520.2 L380.0,518.5 L380.2,516.9 L380.4,515.3 L380.7,513.8 L380.9,512.4 L381.2,511.0 L381.5,509.7 L381.7,508.3 L382.0,507.0 L382.3,505.6 L382.6,504.2 L382.9,502.8 L383.3,501.3 L383.6,499.7 L384.0,498.0 L384.3,496.7 L384.6,495.4 L384.9,494.0 L385.1,492.7 L385.4,491.3 L385.7,489.9 L386.0,488.6 L386.3,487.2 L386.6,485.7 L387.0,484.3 L387.3,482.8 L387.6,481.4 L388.0,479.9 L388.4,478.3 L388.8,476.8 L389.2,475.2 L389.6,473.6 L390.0,472.0 L390.5,470.4 L391.0,468.7 L391.5,467.0 L391.9,465.7 L392.3,464.4 L392.7,463.0 L393.1,461.6 L393.6,460.2 L394.0,458.8 L394.4,457.4 L394.9,455.9 L395.4,454.4 L395.8,452.9 L396.3,451.4 L396.8,449.9 L397.3,448.4 L397.8,446.9 L398.3,445.3 L398.9,443.8 L399.4,442.3 L399.9,440.8 L400.5,439.2 L401.1,437.7 L401.6,436.2 L402.2,434.7 L402.8,433.2 L403.4,431.7 L404.1,430.3 L404.7,428.8 L405.3,427.4 L406.0,426.0 L406.7,424.6 L407.3,423.2 L408.0,421.8 L408.7,420.5 L409.4,419.1 L410.1,417.7 L410.9,416.4 L411.6,415.0 L412.4,413.7 L413.1,412.3 L413.9,411.0 L414.7,409.7 L415.5,408.4 L416.2,407.0 L417.1,405.7 L417.9,404.4 L418.7,403.1 L419.5,401.8 L420.4,400.5 L421.3,399.2 L422.1,397.9 L423.0,396.6 L423.9,395.3 L424.8,394.1 L425.7,392.8 L426.6,391.5 L427.6,390.3 L428.5,389.0 L429.4,387.8 L430.3,386.7 L431.2,385.5 L432.1,384.3 L433.1,383.1 L434.0,382.0 L435.0,380.8 L436.0,379.7 L437.0,378.5 L438.0,377.4 L439.0,376.2 L440.0,375.1 L441.0,373.9 L442.1,372.8 L443.1,371.7 L444.1,370.5 L445.2,369.4 L446.2,368.3 L447.3,367.2 L448.4,366.1 L449.4,365.0 L450.5,363.9 L451.5,362.8 L452.6,361.8 L453.7,360.7 L454.7,359.6 L455.8,358.6 L456.9,357.6 L457.9,356.5 L459.0,355.5 L460.1,354.4 L461.3,353.3 L462.4,352.3 L463.5,351.2 L464.7,350.2 L465.8,349.1 L466.9,348.1 L468.1,347.1 L469.2,346.1 L470.4,345.1 L471.5,344.1 L472.7,343.1 L473.8,342.1 L475.0,341.1 L476.2,340.1 L477.3,339.2 L478.5,338.2 L479.7,337.2 L480.9,336.3 L482.1,335.4 L483.3,334.4 L484.5,333.5 L485.7,332.6 L487.0,331.6 L488.2,330.7 L489.5,329.8 L490.7,328.9 L492.0,328.0 L493.2,327.1 L494.5,326.3 L495.7,325.4 L497.0,324.6 L498.3,323.7 L499.6,322.9 L500.9,322.0 L502.2,321.2 L503.5,320.3 L504.8,319.5 L506.1,318.7 L507.4,317.9 L508.8,317.1 L510.1,316.3 L511.4,315.5 L512.8,314.7 L514.1,313.9 L515.5,313.1 L516.9,312.3 L518.2,311.6 L519.6,310.8 L521.0,310.1 L522.3,309.3 L523.7,308.6 L525.1,307.8 L526.5,307.1 L527.8,306.4 L529.2,305.7 L530.6,305.0 L532.0,304.3 L533.4,303.6 L534.8,302.9 L536.2,302.2 L537.6,301.6 L539.0,300.9 L540.4,300.2 L541.8,299.6 L543.2,298.9 L544.6,298.3 L546.1,297.6 L547.5,297.0 L548.9,296.4 L550.4,295.7 L551.8,295.1 L553.2,294.5 L554.7,293.9 L556.1,293.3 L557.6,292.8 L559.0,292.2 L560.4,291.6 L561.9,291.1 L563.3,290.6 L564.8,290.0 L566.2,289.5 L567.7,289.0 L569.1,288.5 L570.6,288.1 L572.0,287.6 L573.5,287.1 L575.0,286.7 L576.5,286.2 L578.0,285.8 L579.5,285.4 L581.0,285.0 L582.5,284.6 L583.9,284.2 L585.4,283.9 L586.9,283.5 L588.4,283.2 L589.9,282.8 L591.4,282.5 L592.9,282.2 L594.4,281.9 L596.0,281.6 L597.5,281.3 L599.0,281.0 L600.5,280.7 L602.0,280.4 L603.5,280.2 L605.0,279.9 L606.6,279.7 L608.1,279.4 L609.6,279.2 L611.1,279.0 L612.7,278.7 L614.2,278.5 L615.7,278.3 L617.2,278.1 L618.7,277.9 L620.2,277.7 L621.7,277.5 L623.2,277.3 L624.7,277.2 L626.2,277.0 L627.7,276.9 L629.2,276.7 L630.7,276.6 L632.2,276.4 L633.7,276.3 L635.3,276.2 L636.8,276.1 L638.3,276.0 L639.8,275.9 L641.4,275.8 L642.9,275.7 L644.4,275.6 L645.9,275.5 L647.4,275.5 L649.0,275.4 L650.5,275.4 L652.0,275.3 L653.5,275.3 L655.1,275.2 L656.6,275.2 L658.1,275.2 L659.6,275.2 L661.2,275.2 L662.7,275.2 L664.2,275.2 L665.8,275.2 L667.3,275.2 L668.9,275.2 L670.5,275.3 L672.0,275.3 L673.6,275.3 L675.1,275.4 L676.7,275.4 L678.3,275.5 L679.8,275.6 L681.4,275.6 L682.9,275.7 L684.5,275.8 L686.0,275.9 L687.5,276.0 L689.1,276.2 L690.6,276.3 L692.1,276.4 L693.6,276.6 L695.1,276.7 L696.5,276.9 L698.0,277.1 L699.4,277.3 L700.9,277.5 L702.3,277.7 L703.9,278.0 L705.4,278.2 L706.9,278.5 L708.4,278.8 L709.8,279.1 L711.3,279.5 L712.7,279.8 L714.1,280.2 L715.5,280.5 L716.9,280.9 L718.3,281.3 L719.7,281.7 L721.1,282.1 L722.4,282.5 L723.8,283.0 L725.2,283.4 L726.6,283.8 L728.0,284.3 L729.5,284.7 L730.9,285.2 L732.4,285.6 L733.8,286.1 L735.3,286.6 L736.9,287.1 L738.4,287.5 L740.0,288.0 L741.4,288.4 L742.7,288.8 L744.1,289.2 L745.5,289.6 L747.0,290.0 L748.4,290.5 L749.9,290.9 L751.3,291.3 L752.8,291.8 L754.3,292.2 L755.8,292.6 L757.3,293.1 L758.8,293.5 L760.3,294.0 L761.8,294.4 L763.4,294.9 L764.9,295.4 L766.4,295.9 L767.9,296.3 L769.4,296.8 L771.0,297.3 L772.5,297.8 L774.0,298.3 L775.5,298.8 L777.0,299.3 L778.4,299.8 L779.9,300.3 L781.3,300.8 L782.8,301.3 L784.2,301.9 L785.6,302.4 L787.1,303.0 L788.6,303.6 L790.0,304.1 L791.5,304.7 L793.0,305.3 L794.4,305.9 L795.8,306.6 L797.3,307.2 L798.7,307.8 L800.1,308.4 L801.5,309.1 L802.9,309.7 L804.4,310.3 L805.8,311.0 L807.2,311.6 L808.5,312.3 L809.9,313.0 L811.3,313.6 L812.7,314.3 L814.1,314.9 L815.5,315.6 L816.9,316.3 L818.2,317.0 L819.6,317.6 L821.0,318.3 L822.4,319.0 L823.7,319.7 L825.1,320.3 L826.5,321.0 L827.9,321.7 L829.3,322.4 L830.6,323.0 L832.0,323.7 L833.4,324.4 L834.7,325.1 L836.1,325.8 L837.5,326.5 L838.8,327.2 L840.2,327.9 L841.5,328.6 L842.9,329.3 L844.3,330.0 L845.6,330.7 L847.0,331.4 L848.3,332.1 L849.6,332.8 L851.0,333.5 L852.3,334.2 L853.7,334.9 L855.0,335.7 L856.3,336.4 L857.7,337.1 L859.0,337.8 L860.3,338.6 L861.6,339.3 L863.0,340.0 L864.3,340.8 L865.6,341.5 L867.0,342.3 L868.3,343.0 L869.7,343.8 L871.0,344.6 L872.3,345.3 L873.7,346.1 L875.0,346.9 L876.3,347.7 L877.6,348.5 L878.9,349.3 L880.3,350.0 L881.6,350.8 L882.9,351.6 L884.2,352.4 L885.5,353.2 L886.8,354.0 L888.1,354.8 L889.5,355.6 L890.8,356.4 L892.1,357.2 L893.4,358.0 L894.7,358.9 L896.1,359.7 L897.4,360.5 L898.7,361.3 L900.1,362.1 L901.4,363.0 L902.8,363.8 L904.1,364.6 L905.4,365.4 L906.6,366.1 L907.9,366.9 L909.2,367.7 L910.5,368.5 L911.8,369.3 L913.1,370.1 L914.5,370.9 L915.8,371.7 L917.1,372.5 L918.4,373.3 L919.7,374.2 L921.0,375.0 L922.4,375.8 L923.7,376.6 L925.0,377.4 L926.3,378.2 L927.6,379.0 L928.9,379.9 L930.2,380.7 L931.6,381.5 L932.9,382.3 L934.2,383.1 L935.5,383.9 L936.8,384.8 L938.1,385.6 L939.3,386.4 L940.6,387.2 L941.9,388.0 L943.2,388.8 L944.5,389.7 L945.8,390.5 L947.1,391.3 L948.4,392.2 L949.7,393.0 L951.0,393.9 L952.3,394.7 L953.6,395.5 L954.9,396.4 L956.1,397.2 L957.4,398.1 L958.7,398.9 L960.0,399.7 L961.2,400.6 L962.5,401.4 L963.8,402.2 L965.1,403.1 L966.3,403.9 L967.6,404.7 L968.9,405.6 L970.2,406.4 L971.4,407.2 L972.7,408.1 L974.0,408.9 L975.3,409.7 L976.5,410.6 L977.8,411.4 L979.1,412.2 L980.4,413.0 L981.7,413.8 L983.0,414.7 L984.2,415.5 L985.5,416.3 L986.8,417.1 L988.1,417.9 L989.4,418.7 L990.7,419.5 L992.0,420.3 L993.2,421.1 L994.5,421.9 L995.8,422.7 L997.1,423.5 L998.4,424.3 L999.7,425.1 L1001.0,425.9 L1002.3,426.7 L1003.5,427.5 L1004.8,428.3 L1006.1,429.1 L1007.4,429.9 L1008.7,430.7 L1010.0,431.6 L1011.3,432.4 L1012.5,433.2 L1013.8,434.0 L1015.1,434.8 L1016.4,435.6 L1017.7,436.4 L1019.0,437.2 L1020.2,438.0 L1021.5,438.9 L1022.8,439.7 L1024.1,440.5 L1025.4,441.3 L1026.6,442.1 L1027.9,443.0 L1029.2,443.8 L1030.5,444.6 L1031.8,445.4 L1033.0,446.3 L1034.3,447.1 L1035.6,447.9 L1036.9,448.7 L1038.2,449.6 L1039.4,450.4 L1040.7,451.2 L1042.0,452.0 L1043.3,452.8 L1044.6,453.7 L1045.9,454.5 L1047.1,455.3 L1048.4,456.1 L1049.7,456.9 L1051.0,457.8 L1052.3,458.6 L1053.6,459.4 L1054.9,460.2 L1056.2,461.0 L1057.5,461.8 L1058.8,462.7 L1060.1,463.5 L1061.4,464.3 L1062.7,465.1 L1064.0,465.9 L1065.3,466.8 L1066.6,467.6 L1067.9,468.4 L1069.2,469.2 L1070.5,470.0 L1071.8,470.8 L1073.1,471.7 L1074.5,472.5 L1075.8,473.3 L1077.1,474.1 L1078.4,474.9 L1079.7,475.7 L1081.0,476.5 L1082.3,477.3 L1083.7,478.1 L1085.0,478.9 L1086.3,479.7 L1087.6,480.5 L1088.9,481.3 L1090.3,482.1 L1091.6,482.9 L1092.9,483.7 L1094.3,484.5 L1095.6,485.3 L1096.9,486.0 L1098.3,486.8 L1099.6,487.6 L1100.9,488.4 L1102.3,489.2 L1103.6,489.9 L1105.0,490.7 L1106.3,491.5 L1107.7,492.3 L1109.0,493.0 L1110.4,493.8 L1111.7,494.6 L1113.1,495.3 L1114.4,496.1 L1115.8,496.9 L1117.1,497.6 L1118.5,498.4 L1119.8,499.2 L1121.2,499.9 L1122.5,500.7 L1123.9,501.4 L1125.2,502.2 L1126.6,502.9 L1127.9,503.7 L1129.3,504.4 L1130.6,505.2 L1131.9,505.9 L1133.3,506.7 L1134.6,507.4 L1136.0,508.2 L1137.3,508.9 L1138.7,509.7 L1140.0,510.4 L1141.4,511.2 L1142.7,511.9 L1144.1,512.6 L1145.4,513.4 L1146.8,514.1 L1148.1,514.9 L1149.4,515.6 L1150.8,516.3 L1152.1,517.1 L1153.5,517.8 L1154.8,518.5 L1156.2,519.2 L1157.5,520.0 L1158.9,520.7 L1160.2,521.4 L1161.6,522.1 L1162.9,522.8 L1164.3,523.6 L1165.6,524.3 L1167.0,525.0 L1168.3,525.7 L1169.7,526.4 L1171.1,527.1 L1172.4,527.8 L1173.8,528.5 L1175.1,529.2 L1176.5,529.9 L1177.8,530.6 L1179.2,531.3 L1180.6,532.0 L1181.9,532.7 L1183.3,533.4 L1184.6,534.1 L1186.0,534.8 L1187.4,535.4 L1188.7,536.1 L1190.1,536.8 L1191.5,537.5 L1192.8,538.2 L1194.2,538.8 L1195.5,539.5 L1196.9,540.2 L1198.3,540.9 L1199.6,541.5 L1201.0,542.2 L1202.4,542.9 L1203.7,543.5 L1205.1,544.2 L1206.5,544.9 L1207.8,545.5 L1209.2,546.2 L1210.6,546.9 L1211.9,547.5 L1213.3,548.2 L1214.7,548.8 L1216.0,549.5 L1217.4,550.2 L1218.8,550.8 L1220.2,551.5 L1221.5,552.1 L1222.9,552.8 L1224.3,553.4 L1225.7,554.1 L1227.0,554.7 L1228.4,555.4 L1229.8,556.0 L1231.1,556.7 L1232.5,557.3 L1233.9,557.9 L1235.3,558.6 L1236.6,559.2 L1238.0,559.8 L1239.4,560.5 L1240.8,561.1 L1242.1,561.7 L1243.5,562.3 L1244.9,563.0 L1246.3,563.6 L1247.6,564.2 L1249.0,564.8 L1250.4,565.4 L1251.8,566.1 L1253.2,566.7 L1254.7,567.3 L1256.1,567.9 L1257.5,568.5 L1258.9,569.1 L1260.3,569.7 L1261.7,570.3 L1263.1,570.9 L1264.5,571.5 L1265.9,572.1 L1267.3,572.7 L1268.7,573.3 L1270.1,573.8 L1271.5,574.4 L1272.9,575.0 L1274.3,575.6 L1275.8,576.2 L1277.2,576.8 L1278.6,577.4 L1280.0,577.9 L1281.5,578.5 L1282.9,579.1 L1284.3,579.7 L1285.8,580.3 L1287.2,580.9 L1288.7,581.5 L1290.1,582.1 L1291.4,582.6 L1292.8,583.2 L1294.2,583.7 L1295.6,584.3 L1297.0,584.9 L1298.4,585.4 L1299.8,586.0 L1301.2,586.6 L1302.6,587.1 L1304.1,587.7 L1305.5,588.3 L1306.9,588.8 L1308.3,589.4 L1309.8,589.9 L1311.2,590.5 L1312.6,591.1 L1314.0,591.6 L1315.5,592.2 L1316.9,592.8 L1318.3,593.3 L1319.7,593.9 L1321.1,594.4 L1322.6,595.0 L1324.0,595.5 L1325.4,596.1 L1326.8,596.7 L1328.2,597.2 L1329.6,597.8 L1331.0,598.3 L1332.4,598.9 L1333.9,599.4 L1335.3,600.0 L1336.7,600.6 L1338.2,601.1 L1339.6,601.7 L1341.0,602.2 L1342.5,602.8 L1343.9,603.4 L1345.3,603.9 L1346.7,604.5 L1348.1,605.0 L1349.6,605.6 L1351.0,606.1 L1352.4,606.7 L1353.8,607.2 L1355.2,607.8 L1356.6,608.3 L1358.1,608.9 L1359.5,609.4 L1360.9,610.0 L1362.3,610.5 L1363.7,611.1 L1365.2,611.6 L1366.6,612.2 L1368.0,612.7 L1369.4,613.2 L1370.9,613.8 L1372.3,614.3 L1373.7,614.8 L1375.2,615.4 L1376.6,615.9 L1378.0,616.4 L1379.5,616.9 L1380.9,617.5 L1382.3,618.0 L1383.8,618.5 L1385.2,619.0 L1386.6,619.5 L1388.1,620.0 L1389.5,620.5 L1390.9,621.1 L1392.4,621.6 L1393.8,622.1 L1395.3,622.6 L1396.7,623.1 L1398.1,623.6 L1399.6,624.1 L1401.0,624.6 L1402.5,625.1 L1403.9,625.6 L1405.3,626.1 L1406.8,626.6 L1408.2,627.2 L1409.7,627.7 L1411.1,628.2 L1412.6,628.7 L1414.0,629.2 L1415.4,629.7 L1416.9,630.2 L1418.3,630.7 L1419.8,631.3 L1421.2,631.8 L1422.7,632.3 L1424.1,632.8 L1425.6,633.3 L1427.0,633.9 L1428.5,634.4 L1429.9,634.9 L1431.4,635.4 L1432.8,635.9 L1434.3,636.5 L1435.7,637.0 L1437.2,637.5 L1438.6,638.0 L1440.1,638.5 L1441.5,639.1 L1443.0,639.6 L1444.4,640.1 L1445.9,640.6 L1447.3,641.1 L1448.8,641.6 L1450.2,642.1 L1451.7,642.6 L1453.1,643.1 L1454.6,643.6 L1456.0,644.1 L1457.4,644.6 L1458.9,645.1 L1460.3,645.6 L1461.8,646.1 L1463.2,646.5 L1464.6,647.0 L1466.1,647.5 L1467.5,648.0 L1469.0,648.4 L1470.4,648.9 L1471.8,649.4 L1473.3,649.8 L1474.7,650.3 L1476.1,650.8 L1477.6,651.3 L1479.0,651.7 L1480.4,652.2 L1481.9,652.6 L1483.3,653.1 L1484.7,653.6 L1486.2,654.0 L1487.6,654.5 L1489.1,655.0 L1490.5,655.4 L1491.9,655.9 L1493.4,656.4 L1494.8,656.9 L1496.3,657.3 L1497.7,657.8 L1499.1,658.3 L1500.6,658.7 L1502.0,659.2 L1503.5,659.7 L1504.9,660.2 L1506.4,660.7 L1507.8,661.1 L1509.3,661.6 L1510.7,662.1 L1512.2,662.6 L1513.7,663.0 L1515.1,663.5 L1516.6,664.0 L1518.0,664.5 L1519.5,665.0 L1520.9,665.4 L1522.4,665.9 L1523.8,666.4 L1525.3,666.9 L1526.8,667.3 L1528.2,667.8 L1529.7,668.3 L1531.1,668.8 L1532.6,669.2 L1534.0,669.7 L1535.5,670.2 L1536.9,670.7 L1538.4,671.1 L1539.8,671.6 L1541.2,672.1 L1542.7,672.5 L1544.1,673.0 L1545.6,673.5 L1547.0,673.9 L1548.4,674.4 L1549.9,674.9 L1551.3,675.3 L1552.7,675.8 L1554.2,676.2 L1555.6,676.7 L1557.0,677.2 L1558.5,677.6 L1559.9,678.1 L1561.3,678.5 L1562.8,679.0 L1564.2,679.4 L1565.6,679.9 L1567.1,680.4 L1568.5,680.8 L1569.9,681.3 L1571.4,681.7 L1572.8,682.2 L1574.3,682.7 L1575.7,683.1 L1577.1,683.6 L1578.6,684.1 L1580.0,684.5 L1581.5,685.0 L1583.0,685.5 L1584.4,685.9 L1585.9,686.4 L1587.3,686.9 L1588.8,687.4 L1590.3,687.8 L1591.8,688.3 L1593.2,688.8 L1594.7,689.3 L1596.2,689.8 L1597.7,690.2 L1599.1,690.7 L1600.6,691.2 L1602.1,691.7 L1603.6,692.2 L1605.1,692.6 L1606.5,693.1 L1608.0,693.6 L1609.5,694.1 L1611.0,694.6 L1612.5,695.0 L1613.9,695.5 L1615.4,696.0 L1616.9,696.5 L1618.4,696.9 L1619.9,697.4 L1621.3,697.9 L1622.8,698.3 L1624.3,698.8 L1625.8,699.3 L1627.3,699.7 L1628.7,700.2 L1630.2,700.6 L1631.7,701.1 L1633.2,701.5 L1634.7,702.0 L1636.2,702.4 L1637.7,702.9 L1639.2,703.3 L1640.6,703.8 L1642.1,704.2 L1643.6,704.6 L1645.1,705.1 L1646.6,705.5 L1648.1,706.0 L1649.6,706.4 L1651.0,706.8 L1652.5,707.3 L1654.0,707.7 L1655.5,708.2 L1656.9,708.6 L1658.4,709.1 L1659.9,709.5 L1661.3,710.0 L1662.8,710.4 L1664.2,710.9 L1665.7,711.3 L1667.1,711.8 L1668.6,712.3 L1670.0,712.8 L1671.5,713.2 L1673.0,713.7 L1674.4,714.2 L1675.9,714.7 L1677.3,715.1 L1678.7,715.6 L1680.2,716.1 L1681.6,716.6 L1683.0,717.1 L1684.4,717.5 L1685.8,718.0 L1687.2,718.5 L1688.7,719.0 L1690.1,719.5 L1691.5,720.0 L1692.9,720.5 L1694.3,721.0 L1695.8,721.5 L1697.2,722.0 L1698.6,722.5 L1700.1,723.0 L1701.5,723.5 L1703.0,724.0 L1704.5,724.5 L1705.9,725.1 L1707.4,725.6 L1708.8,726.1 L1710.2,726.6 L1711.6,727.1 L1713.0,727.6 L1714.4,728.2 L1715.8,728.7 L1717.2,729.2 L1718.6,729.8 L1720.1,730.3 L1721.5,730.9 L1722.9,731.4 L1724.3,731.9 L1725.8,732.5 L1727.2,733.0 L1728.6,733.6 L1730.1,734.2 L1731.5,734.7 L1733.0,735.3 L1734.4,735.8 L1735.8,736.3 L1737.3,736.9 L1738.7,737.4 L1740.2,738.0 L1741.6,738.5 L1743.0,739.0 L1744.5,739.6 L1745.9,740.1 L1747.3,740.6 L1748.8,741.1 L1750.2,741.6 L1751.7,742.1 L1753.2,742.6 L1754.6,743.1 L1756.1,743.6 L1757.6,744.1 L1759.1,744.6 L1760.5,745.1 L1762.0,745.6 L1763.5,746.1 L1765.0,746.6 L1766.4,747.1 L1767.9,747.6 L1769.4,748.1 L1770.9,748.6 L1772.3,749.0 L1773.8,749.5 L1775.3,750.0 L1776.8,750.5 L1778.2,750.9 L1779.7,751.4 L1781.2,751.8 L1782.7,752.3 L1784.1,752.8 L1785.6,753.2 L1787.1,753.6 L1788.6,754.1 L1790.0,754.5 L1791.5,755.0 L1793.0,755.4 L1794.5,755.8 L1796.0,756.3 L1797.4,756.7 L1798.9,757.1 L1800.4,757.5 L1801.9,757.9 L1803.4,758.3 L1804.8,758.7 L1806.3,759.1 L1807.8,759.5 L1809.3,759.8 L1810.7,760.2 L1812.2,760.6 L1813.7,761.0 L1815.2,761.4 L1816.7,761.7 L1818.2,762.1 L1819.6,762.5 L1821.1,762.8 L1822.6,763.2 L1824.1,763.6 L1825.5,764.0 L1827.0,764.3 L1828.5,764.7 L1830.0,765.1 L1831.5,765.5 L1832.9,765.8 L1834.4,766.2 L1835.9,766.6 L1837.4,767.0 L1838.9,767.4 L1840.3,767.7 L1841.8,768.1 L1843.3,768.5 L1844.8,768.9 L1846.2,769.3 L1847.7,769.6 L1849.2,770.0 L1850.7,770.4 L1852.1,770.8 L1853.6,771.2 L1855.1,771.5 L1856.6,771.9 L1858.0,772.3 L1859.5,772.7 L1861.0,773.1 L1862.5,773.4 L1863.9,773.8 L1865.4,774.2 L1866.9,774.6 L1868.4,775.0 L1869.8,775.4 L1871.3,775.7 L1872.8,776.1 L1874.3,776.5 L1875.7,776.9 L1877.2,777.3 L1878.7,777.7 L1880.2,778.1 L1881.7,778.5 L1883.1,778.9 L1884.6,779.3 L1886.1,779.7 L1887.6,780.1 L1889.0,780.5 L1890.5,780.9 L1892.0,781.4 L1893.5,781.8 L1894.9,782.2 L1896.4,782.6 L1897.9,783.0 L1899.4,783.4 L1900.8,783.9 L1902.3,784.3 L1903.8,784.7 L1905.3,785.1 L1906.7,785.5 L1908.2,785.9 L1909.7,786.3 L1911.2,786.8 L1912.6,787.2 L1914.1,787.6 L1915.6,788.0 L1917.1,788.4 L1918.5,788.8 L1920.0,789.2 L1921.5,789.6 L1923.0,790.0 L1924.5,790.4 L1925.9,790.8 L1927.4,791.2 L1928.9,791.6 L1930.4,792.0 L1931.8,792.4 L1933.3,792.8 L1934.8,793.2 L1936.3,793.5 L1937.7,793.9 L1939.2,794.3 L1940.7,794.7 L1942.2,795.1 L1943.6,795.5 L1945.1,795.9 L1946.6,796.3 L1948.1,796.6 L1949.5,797.0 L1951.0,797.4 L1952.5,797.8 L1954.0,798.2 L1955.4,798.5 L1956.9,798.9 L1958.4,799.3 L1959.9,799.7 L1961.3,800.1 L1962.8,800.4 L1964.3,800.8 L1965.8,801.2 L1967.3,801.5 L1968.7,801.9 L1970.2,802.3 L1971.7,802.7 L1973.2,803.0 L1974.6,803.4 L1976.1,803.8 L1977.6,804.1 L1979.1,804.5 L1980.5,804.9 L1982.0,805.3 L1983.5,805.6 L1985.0,806.0 L1986.4,806.3 L1987.9,806.7 L1989.4,807.1 L1990.9,807.4 L1992.3,807.8 L1993.8,808.1 L1995.3,808.5 L1996.8,808.8 L1998.2,809.2 L1999.7,809.5 L2001.2,809.9 L2002.7,810.2 L2004.1,810.5 L2005.6,810.9 L2007.1,811.2 L2008.6,811.5 L2010.0,811.8 L2011.5,812.2 L2013.0,812.5 L2014.5,812.8 L2015.9,813.1 L2017.4,813.4 L2018.9,813.7 L2020.3,814.0 L2021.8,814.3 L2023.3,814.6 L2024.8,814.9 L2026.2,815.2 L2027.7,815.5 L2029.2,815.8 L2030.6,816.1 L2032.1,816.4 L2033.6,816.7 L2035.1,817.0 L2036.5,817.3 L2038.0,817.6 L2039.5,817.8 L2041.0,818.1 L2042.5,818.4 L2043.9,818.7 L2045.4,819.0 L2046.9,819.2 L2048.4,819.5 L2049.9,819.8 L2051.4,820.1 L2052.9,820.3 L2054.4,820.6 L2055.9,820.9 L2057.4,821.2 L2058.9,821.4 L2060.4,821.7 L2061.9,822.0 L2063.4,822.2 L2064.9,822.5 L2066.4,822.7 L2067.9,823.0 L2069.5,823.3 L2071.0,823.5 L2072.5,823.8 L2074.0,824.0 L2075.5,824.3 L2077.0,824.5 L2078.6,824.8 L2080.1,825.0 L2081.6,825.3 L2083.1,825.5 L2084.6,825.8 L2086.2,826.0 L2087.7,826.2 L2089.2,826.5 L2090.7,826.7 L2092.3,827.0 L2093.8,827.2 L2095.3,827.4 L2096.8,827.7 L2098.2,827.9 L2099.7,828.1 L2101.2,828.3 L2102.7,828.6 L2104.2,828.8 L2105.7,829.0 L2107.2,829.3 L2108.7,829.5 L2110.2,829.7 L2111.7,829.9 L2113.2,830.1 L2114.7,830.4 L2116.2,830.6 L2117.7,830.8 L2119.2,831.0 L2120.7,831.2 L2122.2,831.4 L2123.7,831.7 L2125.2,831.9 L2126.6,832.1 L2128.1,832.3 L2129.6,832.5 L2131.1,832.7 L2132.6,832.9 L2134.1,833.0 L2135.6,833.2 L2137.0,833.4 L2138.5,833.6 L2140.0,833.8 L2141.5,834.0 L2143.0,834.1 L2144.6,834.3 L2146.1,834.5 L2147.6,834.7 L2149.1,834.8 L2150.6,835.0 L2152.0,835.2 L2153.5,835.3 L2155.0,835.5 L2156.5,835.6 L2158.0,835.8 L2159.5,835.9 L2161.0,836.1 L2162.5,836.2 L2164.0,836.4 L2165.5,836.5 L2167.0,836.7 L2168.5,836.8 L2169.9,836.9 L2171.4,837.1 L2172.9,837.2 L2174.4,837.3 L2175.9,837.5 L2177.5,837.6 L2179.0,837.7 L2180.5,837.9 L2182.0,838.0 L2183.5,838.1 L2185.1,838.2 L2186.6,838.4 L2188.2,838.5 L2189.8,838.6 L2191.3,838.7 L2192.9,838.8 L2194.5,838.9 L2196.1,839.1 L2197.7,839.2 L2199.3,839.3 L2200.9,839.4 L2202.5,839.5 L2204.1,839.6 L2205.7,839.7 L2207.2,839.8 L2208.8,839.9 L2210.4,840.0 L2211.9,840.1 L2213.5,840.2 L2215.0,840.2 L2216.5,840.3 L2218.0,840.4 L2219.5,840.5 L2221.0,840.6 L2222.5,840.7 L2223.9,840.8 L2225.3,840.9 L2226.7,841.0 L2228.5,841.1 L2230.2,841.2 L2232.0,841.4 L2233.8,841.5 L2235.7,841.6 L2237.5,841.8 L2239.3,841.9 L2241.1,842.0 L2242.8,842.1 L2244.6,842.3 L2246.3,842.4 L2248.0,842.5 L2249.6,842.6 L2251.2,842.7 L2252.7,842.8 L2254.2,842.9 L2255.5,843.0 L2256.8,843.1 L2258.1,843.2 L2259.2,843.3 L2260.2,843.4 L2261.2,843.4 L2262.0,843.5" fill="none" stroke="#00B0F0" stroke-width="5.0" stroke-dasharray="25.4 18.9" stroke-dashoffset="42.80" />
<path d="M357.0,712.0 L357.0,711.2 L357.0,710.3 L357.0,709.2 L357.0,708.1 L357.0,706.9 L357.0,705.6 L357.0,704.2 L357.0,702.7 L357.0,701.2 L357.0,699.6 L357.0,698.0 L357.0,696.3 L357.0,694.6 L357.0,692.9 L357.1,691.1 L357.1,689.4 L357.1,687.6 L357.1,685.8 L357.1,684.1 L357.1,682.3 L357.1,680.6 L357.1,679.0 L357.1,677.3 L357.1,675.7 L357.2,674.2 L357.2,672.7 L357.2,671.3 L357.2,670.0 L357.2,668.2 L357.3,666.5 L357.3,664.9 L357.3,663.3 L357.3,661.8 L357.4,660.3 L357.4,658.9 L357.4,657.5 L357.5,656.1 L357.5,654.7 L357.5,653.3 L357.6,651.9 L357.6,650.5 L357.7,649.1 L357.7,647.7 L357.8,646.3 L357.8,644.8 L357.9,643.2 L357.9,641.6 L358.0,640.0 L358.1,638.6 L358.1,637.2 L358.2,635.8 L358.2,634.3 L358.3,632.9 L358.3,631.4 L358.4,629.9 L358.4,628.4 L358.5,626.9 L358.5,625.4 L358.6,623.9 L358.7,622.3 L358.7,620.8 L358.8,619.2 L358.9,617.6 L359.0,616.0 L359.1,614.4 L359.2,612.8 L359.3,611.2 L359.4,609.6 L359.6,608.0 L359.7,606.3 L359.8,604.7 L360.0,603.0 L360.1,601.6 L360.3,600.1 L360.4,598.7 L360.6,597.2 L360.7,595.7 L360.9,594.2 L361.1,592.7 L361.2,591.2 L361.4,589.7 L361.6,588.2 L361.7,586.6 L361.9,585.1 L362.1,583.6 L362.3,582.0 L362.5,580.4 L362.7,578.9 L362.9,577.3 L363.2,575.8 L363.4,574.2 L363.7,572.6 L363.9,571.0 L364.2,569.5 L364.5,567.9 L364.7,566.3 L365.0,564.7 L365.3,563.1 L365.7,561.6 L366.0,560.0 L366.3,558.6 L366.6,557.1 L367.0,555.7 L367.3,554.2 L367.7,552.8 L368.0,551.3 L368.4,549.8 L368.7,548.3 L369.1,546.9 L369.5,545.4 L369.9,543.9 L370.3,542.4 L370.7,540.9 L371.1,539.4 L371.6,537.9 L372.0,536.4 L372.4,534.9 L372.9,533.4 L373.3,532.0 L373.8,530.5 L374.2,529.0 L374.7,527.6 L375.2,526.1 L375.6,524.7 L376.1,523.3 L376.6,521.9 L377.1,520.5 L377.5,519.1 L378.0,517.7 L378.5,516.3 L379.0,515.0 L379.6,513.5 L380.1,512.0 L380.7,510.5 L381.3,509.0 L381.9,507.6 L382.4,506.1 L383.0,504.7 L383.6,503.3 L384.2,501.9 L384.8,500.5 L385.4,499.1 L386.0,497.8 L386.7,496.4 L387.3,495.0 L387.9,493.7 L388.6,492.3 L389.2,491.0 L389.9,489.6 L390.6,488.3 L391.3,487.0 L392.0,485.6 L392.7,484.3 L393.4,482.9 L394.2,481.6 L394.9,480.2 L395.7,478.9 L396.5,477.5 L397.2,476.2 L398.0,474.9 L398.8,473.7 L399.6,472.4 L400.4,471.1 L401.2,469.8 L402.0,468.5 L402.8,467.2 L403.7,466.0 L404.5,464.7 L405.4,463.4 L406.3,462.1 L407.2,460.8 L408.0,459.6 L408.9,458.3 L409.8,457.0 L410.7,455.8 L411.7,454.5 L412.6,453.2 L413.5,452.0 L414.4,450.7 L415.4,449.5 L416.3,448.3 L417.3,447.0 L418.2,445.8 L419.1,444.6 L420.1,443.4 L421.0,442.2 L422.0,441.0 L423.0,439.8 L423.9,438.6 L424.9,437.5 L425.9,436.3 L426.8,435.1 L427.8,434.0 L428.8,432.8 L429.8,431.7 L430.8,430.5 L431.8,429.4 L432.8,428.2 L433.8,427.1 L434.8,426.0 L435.8,424.9 L436.9,423.8 L437.9,422.6 L438.9,421.5 L440.0,420.4 L441.0,419.3 L442.1,418.3 L443.1,417.2 L444.2,416.1 L445.2,415.0 L446.3,414.0 L447.4,412.9 L448.4,411.8 L449.5,410.8 L450.6,409.7 L451.7,408.7 L452.8,407.7 L453.9,406.6 L455.0,405.6 L456.1,404.6 L457.2,403.6 L458.3,402.6 L459.4,401.6 L460.5,400.6 L461.7,399.6 L462.8,398.6 L463.9,397.6 L465.1,396.7 L466.2,395.7 L467.4,394.7 L468.5,393.8 L469.7,392.8 L470.8,391.9 L472.0,390.9 L473.2,390.0 L474.4,389.0 L475.5,388.1 L476.7,387.2 L477.9,386.3 L479.1,385.3 L480.3,384.4 L481.5,383.5 L482.8,382.6 L484.0,381.7 L485.2,380.8 L486.4,379.9 L487.7,379.0 L488.9,378.1 L490.2,377.2 L491.4,376.4 L492.7,375.5 L494.0,374.6 L495.3,373.8 L496.6,372.9 L497.9,372.1 L499.2,371.2 L500.5,370.4 L501.8,369.5 L503.1,368.7 L504.4,367.9 L505.7,367.0 L507.1,366.2 L508.4,365.4 L509.7,364.6 L511.0,363.8 L512.4,362.9 L513.7,362.1 L515.0,361.3 L516.4,360.5 L517.7,359.7 L519.0,359.0 L520.3,358.2 L521.7,357.4 L523.0,356.6 L524.3,355.8 L525.7,355.0 L527.0,354.3 L528.3,353.5 L529.6,352.7 L531.0,352.0 L532.3,351.2 L533.6,350.5 L535.0,349.7 L536.3,348.9 L537.7,348.2 L539.0,347.5 L540.3,346.7 L541.7,346.0 L543.0,345.3 L544.4,344.5 L545.7,343.8 L547.1,343.1 L548.4,342.4 L549.8,341.7 L551.1,341.0 L552.5,340.3 L553.9,339.6 L555.2,338.9 L556.6,338.2 L558.0,337.5 L559.3,336.8 L560.7,336.2 L562.1,335.5 L563.5,334.8 L564.9,334.2 L566.3,333.5 L567.6,332.9 L569.0,332.3 L570.4,331.6 L571.8,331.0 L573.2,330.4 L574.6,329.8 L576.0,329.2 L577.5,328.6 L578.9,328.0 L580.3,327.4 L581.7,326.8 L583.1,326.2 L584.5,325.6 L585.9,325.0 L587.4,324.5 L588.8,323.9 L590.2,323.3 L591.6,322.7 L593.0,322.2 L594.5,321.6 L595.9,321.0 L597.3,320.5 L598.7,319.9 L600.2,319.3 L601.6,318.8 L603.0,318.2 L604.4,317.6 L605.8,317.1 L607.3,316.5 L608.7,315.9 L610.1,315.4 L611.6,314.8 L613.0,314.3 L614.4,313.7 L615.8,313.1 L617.3,312.6 L618.7,312.0 L620.1,311.5 L621.6,310.9 L623.0,310.4 L624.4,309.9 L625.9,309.3 L627.3,308.8 L628.7,308.3 L630.2,307.7 L631.6,307.2 L633.1,306.7 L634.5,306.1 L635.9,305.6 L637.4,305.1 L638.8,304.6 L640.3,304.1 L641.7,303.6 L643.2,303.1 L644.6,302.6 L646.0,302.1 L647.5,301.6 L648.9,301.1 L650.4,300.7 L651.8,300.2 L653.3,299.7 L654.7,299.3 L656.2,298.8 L657.6,298.3 L659.1,297.9 L660.5,297.4 L662.0,297.0 L663.4,296.5 L664.9,296.1 L666.3,295.6 L667.8,295.2 L669.2,294.8 L670.7,294.3 L672.1,293.9 L673.6,293.5 L675.1,293.0 L676.5,292.6 L678.0,292.2 L679.4,291.7 L680.9,291.3 L682.4,290.9 L683.9,290.5 L685.3,290.0 L686.8,289.6 L688.3,289.2 L689.8,288.7 L691.2,288.3 L692.7,287.9 L694.2,287.5 L695.7,287.1 L697.2,286.7 L698.7,286.2 L700.2,285.8 L701.7,285.4 L703.2,285.0 L704.7,284.6 L706.2,284.2 L707.7,283.8 L709.3,283.4 L710.8,283.0 L712.3,282.6 L713.8,282.2 L715.3,281.8 L716.8,281.4 L718.3,281.0 L719.8,280.6 L721.3,280.2 L722.8,279.8 L724.3,279.4 L725.8,279.0 L727.2,278.6 L728.7,278.2 L730.2,277.8 L731.7,277.4 L733.1,277.0 L734.6,276.6 L736.1,276.2 L737.5,275.8 L739.0,275.4 L740.5,275.0 L741.9,274.6 L743.4,274.1 L744.8,273.7 L746.3,273.3 L747.7,272.9 L749.2,272.5 L750.6,272.1 L752.0,271.7 L753.5,271.3 L754.9,270.9 L756.4,270.5 L757.8,270.1 L759.3,269.7 L760.7,269.4 L762.2,269.0 L763.6,268.6 L765.1,268.2 L766.5,267.9 L768.0,267.5 L769.5,267.2 L770.9,266.8 L772.4,266.5 L773.9,266.2 L775.3,265.9 L776.8,265.5 L778.3,265.2 L779.8,264.9 L781.2,264.7 L782.7,264.4 L784.2,264.1 L785.7,263.8 L787.1,263.5 L788.6,263.3 L790.1,263.0 L791.6,262.8 L793.1,262.5 L794.5,262.2 L796.0,262.0 L797.5,261.7 L799.0,261.5 L800.5,261.2 L802.0,261.0 L803.5,260.7 L804.9,260.4 L806.4,260.2 L807.9,259.9 L809.4,259.6 L810.9,259.4 L812.4,259.1 L813.9,258.8 L815.4,258.5 L816.9,258.2 L818.4,257.9 L819.9,257.6 L821.4,257.3 L822.9,257.0 L824.4,256.6 L825.9,256.3 L827.5,256.0 L829.0,255.7 L830.5,255.3 L832.0,255.0 L833.5,254.7 L835.0,254.4 L836.6,254.0 L838.1,253.7 L839.6,253.4 L841.1,253.0 L842.6,252.7 L844.2,252.4 L845.7,252.0 L847.2,251.7 L848.7,251.4 L850.2,251.1 L851.7,250.8 L853.3,250.4 L854.8,250.1 L856.3,249.8 L857.8,249.5 L859.3,249.2 L860.8,248.9 L862.3,248.6 L863.8,248.3 L865.3,248.0 L866.8,247.7 L868.3,247.4 L869.8,247.1 L871.3,246.8 L872.8,246.5 L874.3,246.2 L875.8,245.9 L877.3,245.7 L878.8,245.4 L880.3,245.1 L881.7,244.8 L883.2,244.5 L884.7,244.2 L886.2,244.0 L887.7,243.7 L889.2,243.4 L890.7,243.1 L892.2,242.9 L893.7,242.6 L895.2,242.3 L896.7,242.0 L898.3,241.8 L899.8,241.5 L901.3,241.3 L902.8,241.0 L904.3,240.8 L905.7,240.5 L907.2,240.3 L908.7,240.0 L910.2,239.8 L911.7,239.6 L913.2,239.3 L914.7,239.1 L916.2,238.9 L917.7,238.6 L919.2,238.4 L920.7,238.2 L922.2,238.0 L923.7,237.8 L925.2,237.5 L926.7,237.3 L928.2,237.1 L929.7,236.9 L931.2,236.7 L932.7,236.5 L934.2,236.2 L935.7,236.0 L937.2,235.8 L938.7,235.6 L940.1,235.4 L941.6,235.2 L943.1,235.0 L944.6,234.7 L946.0,234.5 L947.5,234.3 L949.1,234.1 L950.6,233.8 L952.2,233.6 L953.7,233.4 L955.2,233.1 L956.8,232.9 L958.3,232.7 L959.8,232.4 L961.4,232.2 L962.9,232.0 L964.4,231.8 L965.9,231.5 L967.4,231.3 L968.9,231.1 L970.5,230.8 L972.0,230.6 L973.5,230.4 L975.0,230.2 L976.5,229.9 L978.0,229.7 L979.6,229.5 L981.1,229.3 L982.6,229.0 L984.1,228.8 L985.7,228.6 L987.2,228.4 L988.8,228.1 L990.3,227.9 L991.8,227.7 L993.3,227.5 L994.8,227.2 L996.3,227.0 L997.8,226.8 L999.3,226.6 L1000.8,226.4 L1002.3,226.1 L1003.9,225.9 L1005.4,225.7 L1006.9,225.5 L1008.4,225.3 L1009.9,225.0 L1011.4,224.8 L1013.0,224.6 L1014.5,224.4 L1016.0,224.2 L1017.5,223.9 L1019.0,223.7 L1020.6,223.5 L1022.1,223.3 L1023.6,223.1 L1025.1,222.9 L1026.6,222.6 L1028.2,222.4 L1029.7,222.2 L1031.2,222.0 L1032.7,221.8 L1034.2,221.6 L1035.7,221.4 L1037.2,221.2 L1038.7,221.0 L1040.2,220.8 L1041.7,220.6 L1043.2,220.4 L1044.7,220.2 L1046.2,220.0 L1047.7,219.8 L1049.2,219.6 L1050.7,219.4 L1052.2,219.2 L1053.7,219.0 L1055.2,218.8 L1056.7,218.6 L1058.2,218.4 L1059.7,218.2 L1061.2,218.0 L1062.7,217.8 L1064.2,217.7 L1065.7,217.5 L1067.2,217.3 L1068.7,217.1 L1070.2,216.9 L1071.7,216.7 L1073.2,216.5 L1074.8,216.4 L1076.3,216.2 L1077.8,216.0 L1079.3,215.8 L1080.8,215.6 L1082.4,215.5 L1083.9,215.3 L1085.4,215.1 L1087.0,215.0 L1088.5,214.8 L1090.0,214.6 L1091.6,214.5 L1093.1,214.3 L1094.7,214.1 L1096.2,214.0 L1097.8,213.8 L1099.3,213.6 L1100.8,213.5 L1102.4,213.3 L1103.9,213.1 L1105.5,213.0 L1107.0,212.8 L1108.6,212.7 L1110.1,212.5 L1111.7,212.3 L1113.2,212.2 L1114.7,212.0 L1116.3,211.9 L1117.8,211.7 L1119.3,211.5 L1120.9,211.4 L1122.4,211.2 L1123.9,211.0 L1125.5,210.9 L1127.0,210.7 L1128.5,210.5 L1130.0,210.4 L1131.5,210.2 L1133.1,210.1 L1134.6,209.9 L1136.1,209.7 L1137.6,209.6 L1139.1,209.4 L1140.6,209.2 L1142.1,209.1 L1143.7,208.9 L1145.2,208.7 L1146.7,208.6 L1148.2,208.4 L1149.7,208.3 L1151.2,208.1 L1152.7,207.9 L1154.3,207.8 L1155.8,207.6 L1157.3,207.4 L1158.8,207.3 L1160.3,207.1 L1161.8,206.9 L1163.4,206.7 L1164.9,206.6 L1166.4,206.4 L1167.9,206.2 L1169.4,206.0 L1171.0,205.9 L1172.5,205.7 L1174.0,205.5 L1175.6,205.3 L1177.1,205.1 L1178.6,204.9 L1180.1,204.8 L1181.7,204.6 L1183.2,204.4 L1184.7,204.2 L1186.3,204.0 L1187.8,203.8 L1189.3,203.6 L1190.9,203.4 L1192.4,203.2 L1193.9,203.0 L1195.4,202.9 L1197.0,202.7 L1198.5,202.5 L1200.0,202.3 L1201.6,202.1 L1203.1,201.9 L1204.6,201.8 L1206.1,201.6 L1207.7,201.4 L1209.2,201.3 L1210.7,201.1 L1212.2,200.9 L1213.7,200.8 L1215.3,200.6 L1216.8,200.5 L1218.3,200.3 L1219.8,200.2 L1221.4,200.0 L1222.9,199.9 L1224.4,199.7 L1225.9,199.6 L1227.5,199.4 L1229.0,199.3 L1230.5,199.1 L1232.0,199.0 L1233.5,198.9 L1235.1,198.7 L1236.6,198.6 L1238.1,198.4 L1239.6,198.3 L1241.1,198.2 L1242.6,198.0 L1244.1,197.9 L1245.6,197.8 L1247.1,197.6 L1248.6,197.5 L1250.1,197.4 L1251.6,197.3 L1253.1,197.1 L1254.6,197.0 L1256.1,196.9 L1257.7,196.7 L1259.2,196.6 L1260.7,196.5 L1262.2,196.4 L1263.7,196.3 L1265.1,196.2 L1266.6,196.0 L1268.1,195.9 L1269.6,195.8 L1271.1,195.7 L1272.5,195.6 L1274.0,195.5 L1275.5,195.4 L1277.0,195.3 L1278.4,195.2 L1279.9,195.1 L1281.4,195.0 L1282.9,194.8 L1284.4,194.7 L1285.9,194.6 L1287.4,194.5 L1288.9,194.4 L1290.5,194.2 L1292.0,194.1 L1293.6,194.0 L1295.1,193.8 L1296.7,193.7 L1298.1,193.6 L1299.6,193.4 L1301.0,193.3 L1302.5,193.1 L1304.0,193.0 L1305.5,192.9 L1307.0,192.7 L1308.5,192.5 L1310.0,192.4 L1311.5,192.2 L1313.0,192.1 L1314.5,191.9 L1316.0,191.7 L1317.6,191.6 L1319.1,191.4 L1320.6,191.2 L1322.1,191.1 L1323.7,190.9 L1325.2,190.8 L1326.7,190.6 L1328.3,190.4 L1329.8,190.3 L1331.3,190.1 L1332.8,189.9 L1334.3,189.8 L1335.8,189.6 L1337.4,189.5 L1338.9,189.3 L1340.3,189.2 L1341.8,189.0 L1343.3,188.9 L1344.9,188.8 L1346.4,188.6 L1348.0,188.5 L1349.6,188.3 L1351.1,188.2 L1352.7,188.0 L1354.2,187.9 L1355.8,187.8 L1357.3,187.6 L1358.9,187.5 L1360.4,187.4 L1362.0,187.3 L1363.5,187.1 L1365.1,187.0 L1366.6,186.9 L1368.1,186.7 L1369.7,186.6 L1371.2,186.5 L1372.7,186.4 L1374.3,186.2 L1375.8,186.1 L1377.3,186.0 L1378.8,185.9 L1380.3,185.7 L1381.9,185.6 L1383.4,185.5 L1384.9,185.4 L1386.4,185.2 L1387.9,185.1 L1389.5,185.0 L1391.0,184.8 L1392.6,184.7 L1394.1,184.6 L1395.6,184.4 L1397.2,184.3 L1398.7,184.2 L1400.2,184.0 L1401.7,183.9 L1403.2,183.8 L1404.8,183.6 L1406.3,183.5 L1407.8,183.4 L1409.3,183.2 L1410.8,183.1 L1412.3,183.0 L1413.8,182.8 L1415.3,182.7 L1416.9,182.6 L1418.4,182.5 L1419.9,182.3 L1421.4,182.2 L1423.0,182.1 L1424.5,181.9 L1426.0,181.8 L1427.6,181.7 L1429.1,181.5 L1430.7,181.4 L1432.2,181.3 L1433.7,181.1 L1435.2,181.0 L1436.8,180.9 L1438.3,180.7 L1439.8,180.6 L1441.4,180.5 L1442.9,180.3 L1444.4,180.2 L1446.0,180.1 L1447.5,179.9 L1449.1,179.8 L1450.6,179.7 L1452.2,179.5 L1453.7,179.4 L1455.3,179.3 L1456.8,179.2 L1458.4,179.0 L1459.9,178.9 L1461.5,178.8 L1463.0,178.6 L1464.6,178.5 L1466.1,178.4 L1467.7,178.3 L1469.2,178.2 L1470.8,178.0 L1472.3,177.9 L1473.9,177.8 L1475.4,177.7 L1476.9,177.6 L1478.5,177.5 L1480.0,177.4 L1481.6,177.3 L1483.1,177.2 L1484.6,177.1 L1486.2,177.0 L1487.7,176.9 L1489.3,176.8 L1490.8,176.7 L1492.4,176.7 L1493.9,176.6 L1495.4,176.5 L1497.0,176.4 L1498.5,176.3 L1500.1,176.2 L1501.6,176.1 L1503.2,176.1 L1504.7,176.0 L1506.2,175.9 L1507.8,175.8 L1509.3,175.7 L1510.9,175.6 L1512.4,175.6 L1513.9,175.5 L1515.5,175.4 L1517.0,175.3 L1518.6,175.2 L1520.1,175.1 L1521.6,175.0 L1523.2,174.9 L1524.7,174.8 L1526.3,174.7 L1527.8,174.6 L1529.4,174.5 L1530.9,174.4 L1532.4,174.3 L1534.0,174.2 L1535.5,174.1 L1537.1,174.0 L1538.6,173.9 L1540.2,173.8 L1541.7,173.7 L1543.2,173.5 L1544.8,173.4 L1546.3,173.3 L1547.9,173.2 L1549.4,173.1 L1550.9,173.0 L1552.5,172.9 L1554.0,172.8 L1555.5,172.7 L1557.1,172.6 L1558.6,172.5 L1560.1,172.4 L1561.7,172.3 L1563.2,172.2 L1564.7,172.1 L1566.2,172.0 L1567.7,171.9 L1569.3,171.8 L1570.8,171.7 L1572.3,171.6 L1573.8,171.5 L1575.3,171.5 L1576.8,171.4 L1578.3,171.3 L1579.8,171.2 L1581.3,171.1 L1582.8,171.0 L1584.3,170.9 L1585.8,170.8 L1587.3,170.8 L1588.8,170.7 L1590.3,170.6 L1591.8,170.5 L1593.3,170.4 L1594.8,170.3 L1596.3,170.2 L1597.8,170.1 L1599.3,170.1 L1600.8,170.0 L1602.3,169.9 L1603.8,169.8 L1605.3,169.7 L1606.8,169.6 L1608.3,169.5 L1609.8,169.4 L1611.3,169.3 L1612.8,169.2 L1614.3,169.1 L1615.9,169.0 L1617.4,168.9 L1618.9,168.8 L1620.4,168.7 L1621.9,168.6 L1623.4,168.5 L1624.9,168.4 L1626.4,168.3 L1628.0,168.2 L1629.5,168.1 L1631.0,167.9 L1632.5,167.8 L1634.0,167.7 L1635.5,167.6 L1637.1,167.5 L1638.6,167.4 L1640.1,167.3 L1641.6,167.2 L1643.1,167.1 L1644.6,167.0 L1646.1,166.9 L1647.7,166.8 L1649.2,166.7 L1650.7,166.6 L1652.2,166.5 L1653.7,166.4 L1655.2,166.3 L1656.7,166.2 L1658.3,166.1 L1659.8,166.0 L1661.3,165.9 L1662.8,165.8 L1664.3,165.7 L1665.8,165.7 L1667.3,165.6 L1668.9,165.5 L1670.4,165.4 L1671.9,165.3 L1673.4,165.2 L1674.9,165.1 L1676.4,165.0 L1678.0,164.9 L1679.5,164.8 L1681.0,164.8 L1682.5,164.7 L1684.0,164.6 L1685.5,164.5 L1687.0,164.4 L1688.5,164.3 L1690.1,164.2 L1691.6,164.2 L1693.1,164.1 L1694.6,164.0 L1696.1,163.9 L1697.6,163.8 L1699.1,163.7 L1700.6,163.7 L1702.1,163.6 L1703.6,163.5 L1705.1,163.4 L1706.6,163.4 L1708.1,163.3 L1709.6,163.2 L1711.1,163.1 L1712.6,163.1 L1714.1,163.0 L1715.6,162.9 L1717.1,162.8 L1718.6,162.8 L1720.1,162.7 L1721.6,162.6 L1723.1,162.5 L1724.6,162.5 L1726.1,162.4 L1727.6,162.3 L1729.1,162.2 L1730.6,162.2 L1732.1,162.1 L1733.6,162.0 L1735.1,161.9 L1736.7,161.9 L1738.2,161.8 L1739.7,161.7 L1741.2,161.6 L1742.7,161.5 L1744.3,161.4 L1745.8,161.4 L1747.3,161.3 L1748.9,161.2 L1750.4,161.1 L1751.9,161.0 L1753.5,160.9 L1755.0,160.8 L1756.5,160.7 L1758.1,160.7 L1759.6,160.6 L1761.2,160.5 L1762.7,160.4 L1764.2,160.3 L1765.8,160.2 L1767.3,160.1 L1768.9,160.0 L1770.4,159.9 L1772.0,159.8 L1773.5,159.7 L1775.0,159.6 L1776.6,159.6 L1778.1,159.5 L1779.7,159.4 L1781.2,159.3 L1782.8,159.2 L1784.3,159.1 L1785.8,159.0 L1787.4,158.9 L1788.9,158.8 L1790.5,158.7 L1792.0,158.6 L1793.6,158.6 L1795.1,158.5 L1796.6,158.4 L1798.2,158.3 L1799.7,158.2 L1801.3,158.1 L1802.8,158.0 L1804.4,157.9 L1805.9,157.8 L1807.5,157.7 L1809.0,157.7 L1810.5,157.6 L1812.1,157.5 L1813.6,157.4 L1815.2,157.3 L1816.7,157.2 L1818.3,157.1 L1819.8,157.0 L1821.3,156.9 L1822.9,156.8 L1824.4,156.8 L1825.9,156.7 L1827.5,156.6 L1829.0,156.5 L1830.5,156.4 L1832.1,156.3 L1833.6,156.2 L1835.1,156.2 L1836.6,156.1 L1838.1,156.0 L1839.7,155.9 L1841.2,155.8 L1842.7,155.7 L1844.2,155.6 L1845.7,155.5 L1847.2,155.5 L1848.7,155.4 L1850.2,155.3 L1851.8,155.2 L1853.3,155.1 L1854.8,155.0 L1856.3,154.9 L1857.8,154.9 L1859.3,154.8 L1860.8,154.7 L1862.3,154.6 L1863.9,154.5 L1865.4,154.5 L1866.9,154.4 L1868.4,154.3 L1869.9,154.2 L1871.5,154.2 L1873.0,154.1 L1874.5,154.0 L1876.1,154.0 L1877.6,153.9 L1879.1,153.8 L1880.7,153.8 L1882.2,153.7 L1883.8,153.7 L1885.3,153.6 L1886.8,153.6 L1888.4,153.5 L1889.9,153.5 L1891.5,153.4 L1893.0,153.4 L1894.6,153.3 L1896.1,153.3 L1897.7,153.2 L1899.2,153.2 L1900.8,153.1 L1902.3,153.1 L1903.8,153.0 L1905.4,152.9 L1906.9,152.9 L1908.5,152.8 L1910.0,152.8 L1911.6,152.7 L1913.1,152.7 L1914.6,152.6 L1916.2,152.6 L1917.7,152.5 L1919.2,152.4 L1920.8,152.4 L1922.3,152.3 L1923.8,152.3 L1925.3,152.2 L1926.9,152.1 L1928.4,152.1 L1929.9,152.0 L1931.4,151.9 L1932.9,151.9 L1934.5,151.8 L1936.0,151.7 L1937.5,151.7 L1939.0,151.6 L1940.5,151.5 L1942.0,151.5 L1943.6,151.4 L1945.1,151.3 L1946.6,151.3 L1948.1,151.2 L1949.6,151.1 L1951.1,151.0 L1952.7,151.0 L1954.2,150.9 L1955.7,150.8 L1957.2,150.7 L1958.7,150.7 L1960.3,150.6 L1961.8,150.5 L1963.3,150.4 L1964.9,150.3 L1966.4,150.2 L1967.9,150.1 L1969.5,150.1 L1971.0,150.0 L1972.5,149.9 L1974.1,149.8 L1975.6,149.7 L1977.1,149.6 L1978.7,149.5 L1980.2,149.4 L1981.7,149.3 L1983.3,149.2 L1984.8,149.1 L1986.4,149.0 L1987.9,148.9 L1989.4,148.8 L1991.0,148.7 L1992.5,148.6 L1994.0,148.5 L1995.6,148.4 L1997.1,148.3 L1998.7,148.2 L2000.2,148.1 L2001.7,148.0 L2003.2,147.9 L2004.8,147.8 L2006.3,147.7 L2007.8,147.6 L2009.3,147.5 L2010.9,147.4 L2012.4,147.4 L2013.9,147.3 L2015.4,147.2 L2016.9,147.1 L2018.5,147.0 L2020.0,146.9 L2021.5,146.9 L2023.0,146.8 L2024.5,146.7 L2026.0,146.6 L2027.5,146.6 L2029.1,146.5 L2030.6,146.4 L2032.1,146.3 L2033.6,146.2 L2035.1,146.2 L2036.6,146.1 L2038.1,146.0 L2039.7,146.0 L2041.2,145.9 L2042.7,145.8 L2044.2,145.8 L2045.7,145.7 L2047.3,145.6 L2048.8,145.6 L2050.3,145.5 L2051.8,145.4 L2053.4,145.4 L2054.9,145.3 L2056.4,145.3 L2057.9,145.2 L2059.5,145.2 L2061.0,145.1 L2062.6,145.1 L2064.1,145.1 L2065.6,145.0 L2067.2,145.0 L2068.7,144.9 L2070.2,144.9 L2071.8,144.9 L2073.3,144.8 L2074.9,144.8 L2076.4,144.8 L2077.9,144.7 L2079.5,144.7 L2081.0,144.6 L2082.5,144.6 L2084.1,144.5 L2085.6,144.5 L2087.1,144.4 L2088.7,144.4 L2090.2,144.3 L2091.7,144.2 L2093.3,144.2 L2094.8,144.1 L2096.3,144.0 L2097.9,143.9 L2099.4,143.8 L2100.9,143.8 L2102.4,143.7 L2103.9,143.6 L2105.5,143.5 L2107.0,143.3 L2108.5,143.2 L2110.0,143.1 L2111.5,143.0 L2113.0,142.9 L2114.6,142.8 L2116.1,142.7 L2117.6,142.5 L2119.1,142.4 L2120.6,142.3 L2122.1,142.2 L2123.7,142.1 L2125.2,142.0 L2126.7,141.9 L2128.2,141.7 L2129.7,141.6 L2131.3,141.5 L2132.8,141.4 L2134.3,141.4 L2135.8,141.3 L2137.4,141.2 L2138.9,141.1 L2140.4,141.0 L2142.0,141.0 L2143.5,140.9 L2145.0,140.8 L2146.6,140.8 L2148.1,140.7 L2149.7,140.7 L2151.2,140.6 L2152.7,140.6 L2154.3,140.5 L2155.8,140.5 L2157.4,140.4 L2158.9,140.4 L2160.5,140.3 L2162.0,140.3 L2163.6,140.2 L2165.1,140.2 L2166.7,140.2 L2168.2,140.1 L2169.8,140.1 L2171.3,140.0 L2172.8,140.0 L2174.4,140.0 L2175.9,139.9 L2177.5,139.9 L2179.0,139.8 L2180.5,139.8 L2182.1,139.7 L2183.6,139.7 L2185.1,139.6 L2186.7,139.6 L2188.2,139.5 L2189.8,139.5 L2191.4,139.4 L2192.9,139.4 L2194.5,139.3 L2196.1,139.3 L2197.7,139.2 L2199.2,139.2 L2200.8,139.1 L2202.4,139.0 L2204.0,139.0 L2205.5,138.9 L2207.1,138.9 L2208.6,138.8 L2210.2,138.8 L2211.7,138.7 L2213.2,138.7 L2214.8,138.6 L2216.3,138.6 L2217.7,138.5 L2219.2,138.5 L2220.7,138.4 L2222.1,138.4 L2223.5,138.3 L2225.0,138.3 L2226.3,138.2 L2227.7,138.2 L2229.5,138.2 L2231.3,138.1 L2233.2,138.1 L2235.0,138.0 L2236.8,138.0 L2238.7,137.9 L2240.5,137.9 L2242.3,137.9 L2244.1,137.8 L2245.9,137.8 L2247.6,137.8 L2249.3,137.7 L2250.9,137.7 L2252.5,137.7 L2254.0,137.6 L2255.4,137.6 L2256.7,137.6 L2258.0,137.6 L2259.1,137.6 L2260.2,137.5 L2261.2,137.5 L2262.0,137.5" fill="none" stroke="#4472C4" stroke-width="5.0" stroke-dasharray="25.4 18.9" stroke-dashoffset="36.87" />
<path d="M369.8,702 L371.2,632" stroke="#00B0F0" stroke-width="5" fill="none"/>
<line x1="426.5" y1="712.8" x2="2282" y2="712.8" stroke="#C00000" stroke-width="5.0" stroke-dasharray="25.4 18.9"/>
<rect x="426.5" y="122.4" width="28.3" height="1263.3" fill="#808080" fill-opacity="0.21"/>
<rect x="733.8" y="122.4" width="28" height="1263.3" fill="#00B0F0" fill-opacity="0.2"/>
<rect x="2249.8" y="122.4" width="31.6" height="1263.3" fill="#4472C4" fill-opacity="0.2"/>
<rect x="347.3" y="141.8" width="1934.1" height="132.4" fill="#ED7D31" fill-opacity="0.2"/>
<g stroke="#000" fill="none">
<line x1="347.3" y1="119.1" x2="347.3" y2="1410.7" stroke-width="6.6"/>
<line x1="2281.4" y1="119.1" x2="2281.4" y2="1410.7" stroke-width="6.6"/>
<line x1="318.8" y1="122.4" x2="2284.7" y2="122.4" stroke-width="6.6"/>
<line x1="318.8" y1="1385.7" x2="2284.7" y2="1385.7" stroke-width="6.2"/>
<line x1="347.3" y1="185.8" x2="369.4" y2="185.8" stroke-width="6"/>
<line x1="347.3" y1="248.9" x2="369.4" y2="248.9" stroke-width="6"/>
<line x1="347.3" y1="312.4" x2="369.4" y2="312.4" stroke-width="6"/>
<line x1="318.8" y1="375.3" x2="375.7" y2="375.3" stroke-width="6.2"/>
<line x1="347.3" y1="438.8" x2="369.4" y2="438.8" stroke-width="6"/>
<line x1="347.3" y1="501.9" x2="369.4" y2="501.9" stroke-width="6"/>
<line x1="347.3" y1="565.6" x2="369.4" y2="565.6" stroke-width="6"/>
<line x1="318.8" y1="628.4" x2="375.7" y2="628.4" stroke-width="6.2"/>
<line x1="347.3" y1="692.0" x2="369.4" y2="692.0" stroke-width="6"/>
<line x1="347.3" y1="755.3" x2="369.4" y2="755.3" stroke-width="6"/>
<line x1="347.3" y1="818.7" x2="369.4" y2="818.7" stroke-width="6"/>
<line x1="318.8" y1="882.3" x2="375.7" y2="882.3" stroke-width="6.2"/>
<line x1="347.3" y1="945.4" x2="369.4" y2="945.4" stroke-width="6"/>
<line x1="347.3" y1="1008.8" x2="369.4" y2="1008.8" stroke-width="6"/>
<line x1="347.3" y1="1071.8" x2="369.4" y2="1071.8" stroke-width="6"/>
<line x1="318.8" y1="1132.1" x2="375.7" y2="1132.1" stroke-width="6.2"/>
<line x1="347.3" y1="1195.5" x2="369.4" y2="1195.5" stroke-width="6"/>
<line x1="347.3" y1="1259.0" x2="369.4" y2="1259.0" stroke-width="6"/>
<line x1="347.3" y1="1322.0" x2="369.4" y2="1322.0" stroke-width="6"/>
<line x1="426.5" y1="1370.1" x2="426.5" y2="1385.7" stroke-width="6.2"/>
<line x1="502.3" y1="1370.1" x2="502.3" y2="1385.7" stroke-width="6.2"/>
<line x1="578.5" y1="1370.1" x2="578.5" y2="1385.7" stroke-width="6.2"/>
<line x1="657.7" y1="1370.1" x2="657.7" y2="1385.7" stroke-width="6.2"/>
<line x1="733.6" y1="1363.4" x2="733.6" y2="1410.7" stroke-width="6.4"/>
<line x1="812.7" y1="1370.1" x2="812.7" y2="1385.7" stroke-width="6.2"/>
<line x1="888.7" y1="1370.1" x2="888.7" y2="1385.7" stroke-width="6.2"/>
<line x1="967.9" y1="1370.1" x2="967.9" y2="1385.7" stroke-width="6.2"/>
<line x1="1043.8" y1="1370.1" x2="1043.8" y2="1385.7" stroke-width="6.2"/>
<line x1="1119.8" y1="1363.4" x2="1119.8" y2="1410.7" stroke-width="6.4"/>
<line x1="1198.7" y1="1370.1" x2="1198.7" y2="1385.7" stroke-width="6.2"/>
<line x1="1274.8" y1="1370.1" x2="1274.8" y2="1385.7" stroke-width="6.2"/>
<line x1="1354.1" y1="1370.1" x2="1354.1" y2="1385.7" stroke-width="6.2"/>
<line x1="1429.9" y1="1370.1" x2="1429.9" y2="1385.7" stroke-width="6.2"/>
<line x1="1505.9" y1="1363.4" x2="1505.9" y2="1410.7" stroke-width="6.4"/>
<line x1="1585.0" y1="1370.1" x2="1585.0" y2="1385.7" stroke-width="6.2"/>
<line x1="1661.0" y1="1370.1" x2="1661.0" y2="1385.7" stroke-width="6.2"/>
<line x1="1740.3" y1="1370.1" x2="1740.3" y2="1385.7" stroke-width="6.2"/>
<line x1="1816.0" y1="1370.1" x2="1816.0" y2="1385.7" stroke-width="6.2"/>
<line x1="1895.3" y1="1363.4" x2="1895.3" y2="1410.7" stroke-width="6.4"/>
<line x1="1971.2" y1="1370.1" x2="1971.2" y2="1385.7" stroke-width="6.2"/>
<line x1="2047.0" y1="1370.1" x2="2047.0" y2="1385.7" stroke-width="6.2"/>
<line x1="2126.2" y1="1370.1" x2="2126.2" y2="1385.7" stroke-width="6.2"/>
<line x1="2202.2" y1="1370.1" x2="2202.2" y2="1385.7" stroke-width="6.2"/>
</g>
<circle cx="346.0" cy="758.0" r="18.85" fill="#4472C4" stroke="#000" stroke-width="3.5"/>
<circle cx="353.5" cy="758.0" r="18.85" fill="#4472C4" stroke="#000" stroke-width="3.5"/>
<circle cx="350.5" cy="732.5" r="18.85" fill="#BFBFBF" stroke="#000" stroke-width="3.5"/>
<circle cx="352.4" cy="744.3" r="18.85" fill="#4472C4" stroke="#000" stroke-width="3.5"/>
<circle cx="351.9" cy="668.2" r="18.85" fill="#00B0F0" stroke="#000" stroke-width="3.5"/>
<circle cx="388.6" cy="720.1" r="18.85" fill="#C00000" stroke="#000" stroke-width="3.5"/>
<circle cx="388.1" cy="605.7" r="18.85" fill="#BFBFBF" stroke="#000" stroke-width="3.5"/>
<circle cx="387.0" cy="353.0" r="18.85" fill="#00B0F0" stroke="#000" stroke-width="3.5"/>
<circle cx="387.0" cy="339.2" r="18.85" fill="#4472C4" stroke="#000" stroke-width="3.5"/>
<circle cx="735.4" cy="706.0" r="18.85" fill="#C00000" stroke="#000" stroke-width="3.5"/>
<circle cx="735.4" cy="1048.9" r="18.85" fill="#BFBFBF" stroke="#000" stroke-width="3.5"/>
<circle cx="735.4" cy="302.0" r="18.85" fill="#00B0F0" stroke="#000" stroke-width="3.5"/>
<circle cx="735.4" cy="326.6" r="18.85" fill="#4472C4" stroke="#000" stroke-width="3.5"/>
<circle cx="2282.5" cy="719.3" r="18.85" fill="#C00000" stroke="#000" stroke-width="3.5"/>
<circle cx="2281.8" cy="1362.0" r="18.85" fill="#BFBFBF" stroke="#000" stroke-width="3.5"/>
<circle cx="2282.5" cy="845.8" r="18.85" fill="#00B0F0" stroke="#000" stroke-width="3.5"/>
<circle cx="2282.8" cy="137.0" r="18.85" fill="#4472C4" stroke="#000" stroke-width="3.5"/>
<rect x="1376.4" y="1050.1" width="803.6" height="126.3" fill="#fff" stroke="#000" stroke-width="5"/>
<ellipse cx="1450.4" cy="1111.8" rx="18.6" ry="19.2" fill="#C00000" stroke="#000" stroke-width="5.0"/>
<ellipse cx="1637.0" cy="1111.8" rx="18.6" ry="19.2" fill="#BFBFBF" stroke="#000" stroke-width="5.0"/>
<ellipse cx="1839.8" cy="1111.8" rx="18.6" ry="19.2" fill="#00B0F0" stroke="#000" stroke-width="5.0"/>
<ellipse cx="2026.4" cy="1111.8" rx="18.6" ry="19.2" fill="#4472C4" stroke="#000" stroke-width="5.0"/>
<g font-family="Liberation Serif, 'Times New Roman', serif" fill="#000">
<text x="1483.9" y="1134.8" font-size="81" textLength="85.4" lengthAdjust="spacingAndGlyphs" stroke="#fff" stroke-width="1.6">Fe</text>
<text x="1673.1" y="1134.8" font-size="81" textLength="96.3" lengthAdjust="spacingAndGlyphs" stroke="#fff" stroke-width="1.6">Co</text>
<text x="1872.1" y="1134.8" font-size="81" textLength="81.6" lengthAdjust="spacingAndGlyphs" stroke="#fff" stroke-width="1.6">Ni</text>
<text x="2059.1" y="1134.8" font-size="81" textLength="94.7" lengthAdjust="spacingAndGlyphs" stroke="#fff" stroke-width="1.6">Zn</text>
<text x="132.7" y="150.1" font-size="88.6" textLength="136.9" lengthAdjust="spacingAndGlyphs" stroke="#fff" stroke-width="1.6">100</text>
<text x="177.1" y="403.3" font-size="88.6" textLength="92.5" lengthAdjust="spacingAndGlyphs" stroke="#fff" stroke-width="1.6">80</text>
<text x="174.6" y="656.1" font-size="88.6" textLength="94.8" lengthAdjust="spacingAndGlyphs" stroke="#fff" stroke-width="1.6">60</text>
<text x="174.8" y="909.3" font-size="88.6" textLength="94.7" lengthAdjust="spacingAndGlyphs" stroke="#fff" stroke-width="1.6">40</text>
<text x="171.3" y="1162.8" font-size="88.6" textLength="98.2" lengthAdjust="spacingAndGlyphs" stroke="#fff" stroke-width="1.6">20</text>
<text x="223.1" y="1412.8" font-size="88.6" textLength="46.0" lengthAdjust="spacingAndGlyphs" stroke="#fff" stroke-width="1.6">0</text>
<text x="326.7" y="1502.2" font-size="80.5" textLength="40.7" lengthAdjust="spacingAndGlyphs" stroke="#fff" stroke-width="1.6">0</text>
<text x="695.9" y="1502.2" font-size="80.5" textLength="80.3" lengthAdjust="spacingAndGlyphs" stroke="#fff" stroke-width="1.6">10</text>
<text x="1077.8" y="1502.2" font-size="80.5" textLength="83.9" lengthAdjust="spacingAndGlyphs" stroke="#fff" stroke-width="1.6">20</text>
<text x="1466.7" y="1502.2" font-size="80.5" textLength="80.8" lengthAdjust="spacingAndGlyphs" stroke="#fff" stroke-width="1.6">30</text>
<text x="1851.7" y="1502.2" font-size="80.5" textLength="83.1" lengthAdjust="spacingAndGlyphs" stroke="#fff" stroke-width="1.6">40</text>
<text x="2237.8" y="1502.2" font-size="80.5" textLength="82.7" lengthAdjust="spacingAndGlyphs" stroke="#fff" stroke-width="1.6">50</text>
<text x="834.8" y="1626" font-size="92.4" textLength="216.1" lengthAdjust="spacingAndGlyphs" stroke="#fff" stroke-width="1.6">Metal</text>
<text x="1076.0" y="1626" font-size="92.4" textLength="148.3" lengthAdjust="spacingAndGlyphs" stroke="#fff" stroke-width="1.6">ions</text>
<text x="1251.2" y="1626" font-size="92.4" textLength="293.6" lengthAdjust="spacingAndGlyphs" stroke="#fff" stroke-width="1.6">addition</text>
<text x="1576.9" y="1626" font-size="92.4" textLength="215.7" lengthAdjust="spacingAndGlyphs" stroke="#fff" stroke-width="1.6">(mM)</text>
<g transform="rotate(-90)">
<text x="-1221.7" y="90.7" font-size="92.4" textLength="347.8" lengthAdjust="spacingAndGlyphs" stroke="#fff" stroke-width="1.6">Recovery</text>
<text x="-842.2" y="90.7" font-size="92.4" textLength="78.6" lengthAdjust="spacingAndGlyphs" stroke="#fff" stroke-width="1.6">of</text>
<text x="-749.1" y="90.7" font-size="92.4" textLength="114.4" lengthAdjust="spacingAndGlyphs" stroke="#fff" stroke-width="1.6">Au</text>
<text x="-608.7" y="90.7" font-size="92.4" textLength="149.5" lengthAdjust="spacingAndGlyphs" stroke="#fff" stroke-width="1.6">ions</text>
<text x="-433.9" y="90.7" font-size="92.4" textLength="140.2" lengthAdjust="spacingAndGlyphs" stroke="#fff" stroke-width="1.6">(%)</text>
</g>
<text x="371.3" y="81" font-size="71.6" textLength="84.3" lengthAdjust="spacingAndGlyphs" stroke="#fff" stroke-width="0.7">Co</text><text x="454.2" y="93.2" font-size="46.4">max</text>
<text x="660.8" y="81" font-size="71.6" textLength="72.2" lengthAdjust="spacingAndGlyphs" stroke="#fff" stroke-width="0.7">Ni</text><text x="732.3" y="93.2" font-size="46.4">max</text>
<text x="2189.8" y="81" font-size="71.6" textLength="73.6" lengthAdjust="spacingAndGlyphs" stroke="#fff" stroke-width="0.7">Zn</text><text x="2262.4" y="93.2" font-size="46.4">max</text>
<text x="1433.9" y="248.6" font-size="71.5" textLength="54.5" lengthAdjust="spacingAndGlyphs" stroke="#FBE5D6" stroke-width="0.7">In</text>
<text x="1511.7" y="248.6" font-size="71.5" textLength="85.7" lengthAdjust="spacingAndGlyphs" stroke="#FBE5D6" stroke-width="0.7">the</text>
<text x="1612.1" y="248.6" font-size="71.5" textLength="247.4" lengthAdjust="spacingAndGlyphs" stroke="#FBE5D6" stroke-width="0.7">presence</text>
<text x="1869.0" y="248.6" font-size="71.5" textLength="64.7" lengthAdjust="spacingAndGlyphs" stroke="#FBE5D6" stroke-width="0.7">of</text>
<text x="1945.7" y="248.6" font-size="71.5" textLength="83.2" lengthAdjust="spacingAndGlyphs" stroke="#FBE5D6" stroke-width="0.7">Cu</text>
<text x="2043.9" y="248.6" font-size="71.5" textLength="113.5" lengthAdjust="spacingAndGlyphs" stroke="#FBE5D6" stroke-width="0.7">ions</text>
</g>
<g stroke="#000" fill="none" stroke-width="5">
<polyline points="2168.9,183.4 2192.7,144.6 2216.5,183.4" stroke-linejoin="miter"/>
<polyline points="2168.9,220.5 2192.7,259.3 2216.5,220.5" stroke-linejoin="miter"/>
<line x1="2192.7" y1="139.9" x2="2192.7" y2="160.2" stroke-width="6"/>
<line x1="2192.7" y1="167.2" x2="2192.7" y2="185.8" stroke-width="6"/>
<line x1="2192.7" y1="192.5" x2="2192.7" y2="210.9" stroke-width="6"/>
<line x1="2192.7" y1="217.8" x2="2192.7" y2="236.2" stroke-width="6"/>
<line x1="2192.7" y1="243.1" x2="2192.7" y2="264" stroke-width="6"/>
</g>
</svg></body></html>
